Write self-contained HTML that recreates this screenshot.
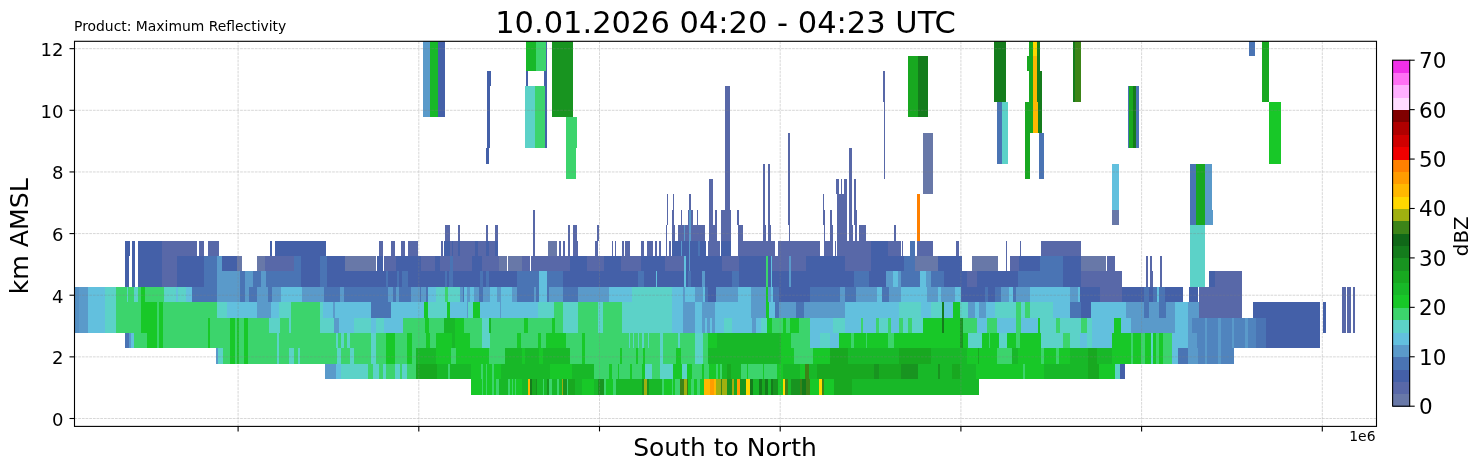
<!DOCTYPE html><html><head><meta charset="utf-8"><title>Maximum Reflectivity cross-section</title>
<style>html,body{margin:0;padding:0;background:#fff}svg{display:block}text{font-family:"DejaVu Sans","Liberation Sans",sans-serif;fill:#000}</style></head><body>
<svg width="1482" height="470" viewBox="0 0 1482 470">
<rect width="1482" height="470" fill="#fff"/>
<defs><clipPath id="axclip"><rect x="74.5" y="41.3" width="1302.0" height="385.09999999999997"/></clipPath></defs>
<g shape-rendering="crispEdges" clip-path="url(#axclip)">
<rect x="423" y="40.25" width="7.00" height="77.05" fill="#5a9aca"/>
<rect x="430" y="40.25" width="8.00" height="77.05" fill="#18b828"/>
<rect x="438" y="40.25" width="6.70" height="77.05" fill="#4460a8"/>
<rect x="487.2" y="71.07" width="3.60" height="15.41" fill="#4460a8"/>
<rect x="487.2" y="86.49" width="2.30" height="61.64" fill="#4460a8"/>
<rect x="486.4" y="148.12" width="2.20" height="15.41" fill="#4460a8"/>
<rect x="526" y="40.25" width="9.50" height="30.82" fill="#18b828"/>
<rect x="535.5" y="40.25" width="10.50" height="30.82" fill="#3cd46c"/>
<rect x="546" y="40.25" width="1.30" height="30.82" fill="#4460a8"/>
<rect x="526" y="71.07" width="1.50" height="15.41" fill="#4460a8"/>
<rect x="543.5" y="71.07" width="3.80" height="15.41" fill="#4460a8"/>
<rect x="525.4" y="86.49" width="9.60" height="61.64" fill="#5cd2c8"/>
<rect x="535" y="86.49" width="10.00" height="61.64" fill="#3cd46c"/>
<rect x="545" y="86.49" width="2.20" height="61.64" fill="#4460a8"/>
<rect x="552.1" y="40.25" width="21.30" height="77.05" fill="#189420"/>
<rect x="566.2" y="117.31" width="9.60" height="61.64" fill="#3cd46c"/>
<rect x="575.8" y="117.31" width="1.00" height="30.82" fill="#3cd46c"/>
<rect x="725.3" y="86.49" width="4.50" height="123.28" fill="#5868a8"/>
<rect x="125.2" y="240.59" width="5.00" height="15.41" fill="#4460a8"/>
<rect x="132.1" y="240.59" width="2.50" height="15.41" fill="#4460a8"/>
<rect x="138.3" y="240.59" width="23.60" height="15.41" fill="#4460a8"/>
<rect x="161.9" y="240.59" width="34.60" height="15.41" fill="#5868a8"/>
<rect x="199.4" y="240.59" width="5.00" height="15.41" fill="#5868a8"/>
<rect x="208.3" y="240.59" width="10.50" height="15.41" fill="#5868a8"/>
<rect x="270.2" y="240.59" width="2.20" height="15.41" fill="#4460a8"/>
<rect x="275.3" y="240.59" width="44.70" height="15.41" fill="#4460a8"/>
<rect x="125.2" y="256.00" width="4.20" height="15.41" fill="#4460a8"/>
<rect x="132.1" y="256.00" width="2.50" height="15.41" fill="#4460a8"/>
<rect x="138.3" y="256.00" width="23.60" height="15.41" fill="#4460a8"/>
<rect x="161.9" y="256.00" width="15.20" height="15.41" fill="#5868a8"/>
<rect x="177.1" y="256.00" width="27.00" height="15.41" fill="#4460a8"/>
<rect x="204.1" y="256.00" width="12.70" height="15.41" fill="#4a74b4"/>
<rect x="216.8" y="256.00" width="5.00" height="15.41" fill="#5a9aca"/>
<rect x="221.8" y="256.00" width="15.20" height="15.41" fill="#4460a8"/>
<rect x="237.0" y="256.00" width="4.60" height="15.41" fill="#6878a8"/>
<rect x="257.2" y="256.00" width="7.60" height="15.41" fill="#6878a8"/>
<rect x="264.8" y="256.00" width="29.60" height="15.41" fill="#5868a8"/>
<rect x="294.4" y="256.00" width="6.70" height="15.41" fill="#4a74b4"/>
<rect x="301.1" y="256.00" width="18.90" height="15.41" fill="#4460a8"/>
<rect x="125.2" y="271.40" width="4.20" height="15.41" fill="#4460a8"/>
<rect x="132.1" y="271.40" width="2.50" height="15.41" fill="#4460a8"/>
<rect x="138.3" y="271.40" width="23.60" height="15.41" fill="#4460a8"/>
<rect x="161.9" y="271.40" width="15.20" height="15.41" fill="#5868a8"/>
<rect x="177.1" y="271.40" width="27.00" height="15.41" fill="#4460a8"/>
<rect x="204.1" y="271.40" width="12.70" height="15.41" fill="#4a74b4"/>
<rect x="216.8" y="271.40" width="22.70" height="15.41" fill="#5a9aca"/>
<rect x="239.5" y="271.40" width="5.10" height="15.41" fill="#4a74b4"/>
<rect x="244.6" y="271.40" width="8.40" height="15.41" fill="#5a9aca"/>
<rect x="253.0" y="271.40" width="7.60" height="15.41" fill="#4a74b4"/>
<rect x="260.6" y="271.40" width="5.10" height="15.41" fill="#5a9aca"/>
<rect x="265.7" y="271.40" width="35.40" height="15.41" fill="#4a74b4"/>
<rect x="301.1" y="271.40" width="18.90" height="15.41" fill="#4460a8"/>
<rect x="74.4" y="286.81" width="4.90" height="15.41" fill="#5490c4"/>
<rect x="79.3" y="286.81" width="8.40" height="15.41" fill="#5a9aca"/>
<rect x="87.7" y="286.81" width="16.90" height="15.41" fill="#62c0de"/>
<rect x="104.6" y="286.81" width="11.80" height="15.41" fill="#5cd2c8"/>
<rect x="116.4" y="286.81" width="11.00" height="15.41" fill="#3cd46c"/>
<rect x="127.4" y="286.81" width="0.80" height="15.41" fill="#5cd2c8"/>
<rect x="128.2" y="286.81" width="5.90" height="15.41" fill="#3cd46c"/>
<rect x="134.1" y="286.81" width="4.20" height="15.41" fill="#5cd2c8"/>
<rect x="138.3" y="286.81" width="2.60" height="15.41" fill="#3cd46c"/>
<rect x="140.9" y="286.81" width="4.20" height="15.41" fill="#18c828"/>
<rect x="145.1" y="286.81" width="18.50" height="15.41" fill="#3cd46c"/>
<rect x="163.6" y="286.81" width="12.70" height="15.41" fill="#5cd2c8"/>
<rect x="176.3" y="286.81" width="1.70" height="15.41" fill="#62c0de"/>
<rect x="178.0" y="286.81" width="8.40" height="15.41" fill="#5cd2c8"/>
<rect x="186.4" y="286.81" width="5.10" height="15.41" fill="#62c0de"/>
<rect x="191.5" y="286.81" width="25.30" height="15.41" fill="#4a74b4"/>
<rect x="216.8" y="286.81" width="22.70" height="15.41" fill="#5a9aca"/>
<rect x="239.5" y="286.81" width="5.90" height="15.41" fill="#4a74b4"/>
<rect x="245.4" y="286.81" width="3.40" height="15.41" fill="#5a9aca"/>
<rect x="248.8" y="286.81" width="4.20" height="15.41" fill="#4a74b4"/>
<rect x="253.0" y="286.81" width="4.20" height="15.41" fill="#4a74b4"/>
<rect x="257.2" y="286.81" width="11.00" height="15.41" fill="#5a9aca"/>
<rect x="268.2" y="286.81" width="3.40" height="15.41" fill="#4a74b4"/>
<rect x="271.6" y="286.81" width="9.30" height="15.41" fill="#5a9aca"/>
<rect x="280.9" y="286.81" width="21.10" height="15.41" fill="#62c0de"/>
<rect x="302.0" y="286.81" width="18.00" height="15.41" fill="#5a9aca"/>
<rect x="74.4" y="302.23" width="4.90" height="15.41" fill="#5490c4"/>
<rect x="79.3" y="302.23" width="8.40" height="15.41" fill="#5a9aca"/>
<rect x="87.7" y="302.23" width="16.90" height="15.41" fill="#62c0de"/>
<rect x="104.6" y="302.23" width="11.80" height="15.41" fill="#5cd2c8"/>
<rect x="116.4" y="302.23" width="24.50" height="15.41" fill="#3cd46c"/>
<rect x="140.9" y="302.23" width="16.00" height="15.41" fill="#18c828"/>
<rect x="156.9" y="302.23" width="2.20" height="15.41" fill="#3cd46c"/>
<rect x="159.1" y="302.23" width="3.70" height="15.41" fill="#18c828"/>
<rect x="162.8" y="302.23" width="54.00" height="15.41" fill="#3cd46c"/>
<rect x="216.8" y="302.23" width="10.10" height="15.41" fill="#5cd2c8"/>
<rect x="226.9" y="302.23" width="30.30" height="15.41" fill="#62c0de"/>
<rect x="257.2" y="302.23" width="13.50" height="15.41" fill="#5a9aca"/>
<rect x="270.7" y="302.23" width="8.50" height="15.41" fill="#62c0de"/>
<rect x="279.2" y="302.23" width="11.80" height="15.41" fill="#5cd2c8"/>
<rect x="291.0" y="302.23" width="29.00" height="15.41" fill="#3cd46c"/>
<rect x="74.4" y="317.63" width="4.90" height="15.41" fill="#5490c4"/>
<rect x="79.3" y="317.63" width="8.40" height="15.41" fill="#5a9aca"/>
<rect x="87.7" y="317.63" width="16.90" height="15.41" fill="#62c0de"/>
<rect x="104.6" y="317.63" width="11.80" height="15.41" fill="#5cd2c8"/>
<rect x="116.4" y="317.63" width="24.50" height="15.41" fill="#3cd46c"/>
<rect x="140.9" y="317.63" width="16.00" height="15.41" fill="#18c828"/>
<rect x="156.9" y="317.63" width="2.20" height="15.41" fill="#3cd46c"/>
<rect x="159.1" y="317.63" width="3.70" height="15.41" fill="#18c828"/>
<rect x="162.8" y="317.63" width="45.20" height="15.41" fill="#3cd46c"/>
<rect x="208.0" y="317.63" width="2.40" height="15.41" fill="#18c828"/>
<rect x="210.4" y="317.63" width="19.90" height="15.41" fill="#3cd46c"/>
<rect x="230.3" y="317.63" width="4.20" height="15.41" fill="#18c828"/>
<rect x="234.5" y="317.63" width="2.50" height="15.41" fill="#3cd46c"/>
<rect x="237.0" y="317.63" width="1.70" height="15.41" fill="#18c828"/>
<rect x="238.7" y="317.63" width="5.10" height="15.41" fill="#3cd46c"/>
<rect x="243.8" y="317.63" width="3.70" height="15.41" fill="#18c828"/>
<rect x="247.5" y="317.63" width="21.60" height="15.41" fill="#3cd46c"/>
<rect x="269.1" y="317.63" width="10.90" height="15.41" fill="#5cd2c8"/>
<rect x="280.0" y="317.63" width="8.50" height="15.41" fill="#3cd46c"/>
<rect x="288.5" y="317.63" width="2.50" height="15.41" fill="#5cd2c8"/>
<rect x="291.0" y="317.63" width="29.00" height="15.41" fill="#3cd46c"/>
<rect x="125.2" y="333.05" width="3.80" height="15.41" fill="#4a74b4"/>
<rect x="129.0" y="333.05" width="1.70" height="15.41" fill="#5a9aca"/>
<rect x="130.7" y="333.05" width="3.10" height="15.41" fill="#62c0de"/>
<rect x="133.8" y="333.05" width="13.50" height="15.41" fill="#3cd46c"/>
<rect x="147.3" y="333.05" width="9.60" height="15.41" fill="#18c828"/>
<rect x="156.9" y="333.05" width="2.20" height="15.41" fill="#3cd46c"/>
<rect x="159.1" y="333.05" width="3.70" height="15.41" fill="#18c828"/>
<rect x="162.8" y="333.05" width="45.20" height="15.41" fill="#3cd46c"/>
<rect x="208.0" y="333.05" width="2.40" height="15.41" fill="#18c828"/>
<rect x="210.4" y="333.05" width="19.90" height="15.41" fill="#3cd46c"/>
<rect x="230.3" y="333.05" width="4.20" height="15.41" fill="#18c828"/>
<rect x="234.5" y="333.05" width="2.50" height="15.41" fill="#3cd46c"/>
<rect x="237.0" y="333.05" width="1.70" height="15.41" fill="#18c828"/>
<rect x="238.7" y="333.05" width="5.10" height="15.41" fill="#3cd46c"/>
<rect x="243.8" y="333.05" width="3.70" height="15.41" fill="#18c828"/>
<rect x="247.5" y="333.05" width="29.10" height="15.41" fill="#3cd46c"/>
<rect x="276.6" y="333.05" width="2.60" height="15.41" fill="#5cd2c8"/>
<rect x="279.2" y="333.05" width="40.80" height="15.41" fill="#3cd46c"/>
<rect x="215.9" y="348.46" width="2.50" height="15.41" fill="#5a9aca"/>
<rect x="218.4" y="348.46" width="4.30" height="15.41" fill="#5cd2c8"/>
<rect x="222.7" y="348.46" width="7.60" height="15.41" fill="#3cd46c"/>
<rect x="230.3" y="348.46" width="4.20" height="15.41" fill="#18c828"/>
<rect x="234.5" y="348.46" width="2.50" height="15.41" fill="#3cd46c"/>
<rect x="237.0" y="348.46" width="1.70" height="15.41" fill="#18c828"/>
<rect x="238.7" y="348.46" width="5.10" height="15.41" fill="#3cd46c"/>
<rect x="243.8" y="348.46" width="3.70" height="15.41" fill="#18c828"/>
<rect x="247.5" y="348.46" width="29.10" height="15.41" fill="#3cd46c"/>
<rect x="276.6" y="348.46" width="2.60" height="15.41" fill="#5cd2c8"/>
<rect x="279.2" y="348.46" width="9.30" height="15.41" fill="#3cd46c"/>
<rect x="288.5" y="348.46" width="5.90" height="15.41" fill="#5cd2c8"/>
<rect x="294.4" y="348.46" width="3.30" height="15.41" fill="#3cd46c"/>
<rect x="297.7" y="348.46" width="2.10" height="15.41" fill="#5cd2c8"/>
<rect x="299.8" y="348.46" width="20.20" height="15.41" fill="#3cd46c"/>
<rect x="444.5" y="225.18" width="5.40" height="15.41" fill="#5868a8"/>
<rect x="457.5" y="225.18" width="2.10" height="15.41" fill="#5868a8"/>
<rect x="486.3" y="225.18" width="1.50" height="15.41" fill="#5868a8"/>
<rect x="495.2" y="225.18" width="2.30" height="15.41" fill="#5868a8"/>
<rect x="533.0" y="209.77" width="1.70" height="30.82" fill="#5868a8"/>
<rect x="320.0" y="240.59" width="5.90" height="15.41" fill="#4460a8"/>
<rect x="379.0" y="240.59" width="3.80" height="15.41" fill="#5868a8"/>
<rect x="391.2" y="240.59" width="3.40" height="15.41" fill="#5868a8"/>
<rect x="401.3" y="240.59" width="3.40" height="15.41" fill="#5868a8"/>
<rect x="408.1" y="240.59" width="9.70" height="15.41" fill="#5868a8"/>
<rect x="441.1" y="240.59" width="1.70" height="15.41" fill="#5868a8"/>
<rect x="444.2" y="240.59" width="5.70" height="15.41" fill="#4460a8"/>
<rect x="449.9" y="240.59" width="1.70" height="15.41" fill="#5868a8"/>
<rect x="451.6" y="240.59" width="1.70" height="15.41" fill="#4460a8"/>
<rect x="453.3" y="240.59" width="4.20" height="15.41" fill="#5868a8"/>
<rect x="457.5" y="240.59" width="2.20" height="15.41" fill="#4460a8"/>
<rect x="459.7" y="240.59" width="2.80" height="15.41" fill="#5868a8"/>
<rect x="462.5" y="240.59" width="0.90" height="15.41" fill="#4460a8"/>
<rect x="463.4" y="240.59" width="11.80" height="15.41" fill="#5868a8"/>
<rect x="475.2" y="240.59" width="2.50" height="15.41" fill="#4460a8"/>
<rect x="477.7" y="240.59" width="8.50" height="15.41" fill="#5868a8"/>
<rect x="486.2" y="240.59" width="2.50" height="15.41" fill="#4460a8"/>
<rect x="488.7" y="240.59" width="6.40" height="15.41" fill="#5868a8"/>
<rect x="495.1" y="240.59" width="2.40" height="15.41" fill="#4460a8"/>
<rect x="532.9" y="240.59" width="1.70" height="15.41" fill="#5868a8"/>
<rect x="548.1" y="240.59" width="8.40" height="15.41" fill="#6878a8"/>
<rect x="559.2" y="240.59" width="1.70" height="15.41" fill="#5868a8"/>
<rect x="562.9" y="240.59" width="1.70" height="15.41" fill="#5868a8"/>
<rect x="568.0" y="240.59" width="2.00" height="15.41" fill="#5868a8"/>
<rect x="320.0" y="256.00" width="6.70" height="15.41" fill="#4a74b4"/>
<rect x="326.7" y="256.00" width="18.60" height="15.41" fill="#4460a8"/>
<rect x="345.3" y="256.00" width="30.40" height="15.41" fill="#6878a8"/>
<rect x="377.4" y="256.00" width="5.40" height="15.41" fill="#4460a8"/>
<rect x="384.1" y="256.00" width="11.80" height="15.41" fill="#5868a8"/>
<rect x="395.9" y="256.00" width="25.30" height="15.41" fill="#4460a8"/>
<rect x="421.2" y="256.00" width="13.50" height="15.41" fill="#5868a8"/>
<rect x="434.7" y="256.00" width="5.10" height="15.41" fill="#4460a8"/>
<rect x="439.8" y="256.00" width="10.10" height="15.41" fill="#5868a8"/>
<rect x="449.9" y="256.00" width="3.40" height="15.41" fill="#4a74b4"/>
<rect x="453.3" y="256.00" width="18.50" height="15.41" fill="#5868a8"/>
<rect x="471.8" y="256.00" width="10.10" height="15.41" fill="#4460a8"/>
<rect x="481.9" y="256.00" width="16.90" height="15.41" fill="#5868a8"/>
<rect x="498.8" y="256.00" width="8.10" height="15.41" fill="#6878a8"/>
<rect x="508.1" y="256.00" width="14.30" height="15.41" fill="#6878a8"/>
<rect x="522.4" y="256.00" width="7.60" height="15.41" fill="#5868a8"/>
<rect x="531.2" y="256.00" width="38.80" height="15.41" fill="#5868a8"/>
<rect x="320.0" y="271.40" width="6.70" height="15.41" fill="#4a74b4"/>
<rect x="326.7" y="271.40" width="59.10" height="15.41" fill="#4460a8"/>
<rect x="385.8" y="271.40" width="2.50" height="15.41" fill="#4a74b4"/>
<rect x="388.3" y="271.40" width="8.50" height="15.41" fill="#4460a8"/>
<rect x="396.8" y="271.40" width="2.50" height="15.41" fill="#4a74b4"/>
<rect x="399.3" y="271.40" width="2.50" height="15.41" fill="#4460a8"/>
<rect x="401.8" y="271.40" width="5.90" height="15.41" fill="#4a74b4"/>
<rect x="407.7" y="271.40" width="37.10" height="15.41" fill="#4460a8"/>
<rect x="444.8" y="271.40" width="1.70" height="15.41" fill="#4a74b4"/>
<rect x="446.5" y="271.40" width="2.50" height="15.41" fill="#4460a8"/>
<rect x="449.0" y="271.40" width="4.30" height="15.41" fill="#4a74b4"/>
<rect x="453.3" y="271.40" width="27.00" height="15.41" fill="#4460a8"/>
<rect x="480.3" y="271.40" width="2.50" height="15.41" fill="#4a74b4"/>
<rect x="482.8" y="271.40" width="3.40" height="15.41" fill="#4460a8"/>
<rect x="486.2" y="271.40" width="2.50" height="15.41" fill="#4a74b4"/>
<rect x="488.7" y="271.40" width="27.80" height="15.41" fill="#4460a8"/>
<rect x="516.5" y="271.40" width="22.80" height="15.41" fill="#4a74b4"/>
<rect x="539.3" y="271.40" width="7.60" height="15.41" fill="#62c0de"/>
<rect x="546.9" y="271.40" width="16.00" height="15.41" fill="#4a74b4"/>
<rect x="562.9" y="271.40" width="7.10" height="15.41" fill="#4460a8"/>
<rect x="320.0" y="286.81" width="4.20" height="15.41" fill="#5a9aca"/>
<rect x="324.2" y="286.81" width="16.00" height="15.41" fill="#4a74b4"/>
<rect x="340.2" y="286.81" width="3.40" height="15.41" fill="#5a9aca"/>
<rect x="343.6" y="286.81" width="43.90" height="15.41" fill="#4a74b4"/>
<rect x="387.5" y="286.81" width="5.90" height="15.41" fill="#5a9aca"/>
<rect x="393.4" y="286.81" width="2.50" height="15.41" fill="#4a74b4"/>
<rect x="395.9" y="286.81" width="3.40" height="15.41" fill="#5a9aca"/>
<rect x="399.3" y="286.81" width="11.80" height="15.41" fill="#4a74b4"/>
<rect x="411.1" y="286.81" width="8.40" height="15.41" fill="#5a9aca"/>
<rect x="419.5" y="286.81" width="1.70" height="15.41" fill="#4a74b4"/>
<rect x="421.2" y="286.81" width="5.10" height="15.41" fill="#5a9aca"/>
<rect x="426.3" y="286.81" width="1.70" height="15.41" fill="#4a74b4"/>
<rect x="428.0" y="286.81" width="8.40" height="15.41" fill="#62c0de"/>
<rect x="436.4" y="286.81" width="8.40" height="15.41" fill="#5cd2c8"/>
<rect x="444.8" y="286.81" width="3.40" height="15.41" fill="#3cd46c"/>
<rect x="448.2" y="286.81" width="11.80" height="15.41" fill="#5cd2c8"/>
<rect x="460.0" y="286.81" width="2.50" height="15.41" fill="#5a9aca"/>
<rect x="462.5" y="286.81" width="1.70" height="15.41" fill="#4a74b4"/>
<rect x="464.2" y="286.81" width="2.60" height="15.41" fill="#62c0de"/>
<rect x="466.8" y="286.81" width="3.30" height="15.41" fill="#5a9aca"/>
<rect x="470.1" y="286.81" width="4.30" height="15.41" fill="#62c0de"/>
<rect x="474.4" y="286.81" width="5.00" height="15.41" fill="#5a9aca"/>
<rect x="479.4" y="286.81" width="3.40" height="15.41" fill="#4a74b4"/>
<rect x="482.8" y="286.81" width="7.60" height="15.41" fill="#5a9aca"/>
<rect x="490.4" y="286.81" width="6.70" height="15.41" fill="#62c0de"/>
<rect x="497.1" y="286.81" width="3.40" height="15.41" fill="#5a9aca"/>
<rect x="500.5" y="286.81" width="11.80" height="15.41" fill="#62c0de"/>
<rect x="512.3" y="286.81" width="4.20" height="15.41" fill="#5a9aca"/>
<rect x="516.5" y="286.81" width="17.70" height="15.41" fill="#4a74b4"/>
<rect x="534.2" y="286.81" width="1.70" height="15.41" fill="#5a9aca"/>
<rect x="535.9" y="286.81" width="3.40" height="15.41" fill="#4a74b4"/>
<rect x="539.3" y="286.81" width="7.60" height="15.41" fill="#62c0de"/>
<rect x="546.9" y="286.81" width="2.50" height="15.41" fill="#4a74b4"/>
<rect x="549.4" y="286.81" width="13.50" height="15.41" fill="#5a9aca"/>
<rect x="562.9" y="286.81" width="7.10" height="15.41" fill="#4a74b4"/>
<rect x="320.0" y="302.23" width="3.40" height="15.41" fill="#5cd2c8"/>
<rect x="323.4" y="302.23" width="9.30" height="15.41" fill="#62c0de"/>
<rect x="332.7" y="302.23" width="2.50" height="15.41" fill="#5a9aca"/>
<rect x="335.2" y="302.23" width="35.40" height="15.41" fill="#62c0de"/>
<rect x="370.6" y="302.23" width="19.90" height="15.41" fill="#4a74b4"/>
<rect x="390.5" y="302.23" width="33.20" height="15.41" fill="#62c0de"/>
<rect x="423.7" y="302.23" width="4.30" height="15.41" fill="#18c828"/>
<rect x="428.0" y="302.23" width="19.40" height="15.41" fill="#5cd2c8"/>
<rect x="447.4" y="302.23" width="2.50" height="15.41" fill="#18c828"/>
<rect x="449.9" y="302.23" width="16.90" height="15.41" fill="#62c0de"/>
<rect x="466.8" y="302.23" width="1.60" height="15.41" fill="#5a9aca"/>
<rect x="468.4" y="302.23" width="4.30" height="15.41" fill="#5cd2c8"/>
<rect x="472.7" y="302.23" width="7.60" height="15.41" fill="#18c828"/>
<rect x="480.3" y="302.23" width="19.40" height="15.41" fill="#62c0de"/>
<rect x="499.7" y="302.23" width="0.80" height="15.41" fill="#5a9aca"/>
<rect x="500.5" y="302.23" width="37.10" height="15.41" fill="#62c0de"/>
<rect x="537.6" y="302.23" width="16.00" height="15.41" fill="#5cd2c8"/>
<rect x="553.6" y="302.23" width="9.30" height="15.41" fill="#3cd46c"/>
<rect x="562.9" y="302.23" width="7.10" height="15.41" fill="#5cd2c8"/>
<rect x="320.0" y="317.63" width="14.30" height="15.41" fill="#5cd2c8"/>
<rect x="334.3" y="317.63" width="4.30" height="15.41" fill="#5a9aca"/>
<rect x="338.6" y="317.63" width="15.10" height="15.41" fill="#62c0de"/>
<rect x="353.7" y="317.63" width="16.90" height="15.41" fill="#5cd2c8"/>
<rect x="370.6" y="317.63" width="5.10" height="15.41" fill="#62c0de"/>
<rect x="375.7" y="317.63" width="8.40" height="15.41" fill="#5cd2c8"/>
<rect x="384.1" y="317.63" width="18.60" height="15.41" fill="#62c0de"/>
<rect x="402.7" y="317.63" width="22.70" height="15.41" fill="#3cd46c"/>
<rect x="425.4" y="317.63" width="3.40" height="15.41" fill="#18c828"/>
<rect x="428.8" y="317.63" width="15.20" height="15.41" fill="#3cd46c"/>
<rect x="444.0" y="317.63" width="11.00" height="15.41" fill="#18b828"/>
<rect x="455.0" y="317.63" width="9.20" height="15.41" fill="#18c828"/>
<rect x="464.2" y="317.63" width="17.70" height="15.41" fill="#3cd46c"/>
<rect x="481.9" y="317.63" width="6.80" height="15.41" fill="#5cd2c8"/>
<rect x="488.7" y="317.63" width="2.00" height="15.41" fill="#18b828"/>
<rect x="490.7" y="317.63" width="33.40" height="15.41" fill="#3cd46c"/>
<rect x="524.1" y="317.63" width="4.20" height="15.41" fill="#18c828"/>
<rect x="528.3" y="317.63" width="23.70" height="15.41" fill="#3cd46c"/>
<rect x="552.0" y="317.63" width="3.30" height="15.41" fill="#18c828"/>
<rect x="555.3" y="317.63" width="7.60" height="15.41" fill="#3cd46c"/>
<rect x="562.9" y="317.63" width="7.10" height="15.41" fill="#5cd2c8"/>
<rect x="320.0" y="333.05" width="16.00" height="15.41" fill="#3cd46c"/>
<rect x="336.0" y="333.05" width="1.70" height="15.41" fill="#5cd2c8"/>
<rect x="337.7" y="333.05" width="3.40" height="15.41" fill="#3cd46c"/>
<rect x="341.1" y="333.05" width="2.50" height="15.41" fill="#5cd2c8"/>
<rect x="343.6" y="333.05" width="3.40" height="15.41" fill="#3cd46c"/>
<rect x="347.0" y="333.05" width="2.50" height="15.41" fill="#5cd2c8"/>
<rect x="349.5" y="333.05" width="21.10" height="15.41" fill="#3cd46c"/>
<rect x="370.6" y="333.05" width="5.10" height="15.41" fill="#5cd2c8"/>
<rect x="375.7" y="333.05" width="10.10" height="15.41" fill="#3cd46c"/>
<rect x="385.8" y="333.05" width="9.30" height="15.41" fill="#18c828"/>
<rect x="395.1" y="333.05" width="11.80" height="15.41" fill="#3cd46c"/>
<rect x="406.9" y="333.05" width="5.00" height="15.41" fill="#18c828"/>
<rect x="411.9" y="333.05" width="14.40" height="15.41" fill="#3cd46c"/>
<rect x="426.3" y="333.05" width="3.30" height="15.41" fill="#18c828"/>
<rect x="429.6" y="333.05" width="6.80" height="15.41" fill="#3cd46c"/>
<rect x="436.4" y="333.05" width="15.20" height="15.41" fill="#18c828"/>
<rect x="451.6" y="333.05" width="3.40" height="15.41" fill="#18b828"/>
<rect x="455.0" y="333.05" width="15.10" height="15.41" fill="#18c828"/>
<rect x="470.1" y="333.05" width="11.80" height="15.41" fill="#3cd46c"/>
<rect x="481.9" y="333.05" width="8.50" height="15.41" fill="#5cd2c8"/>
<rect x="490.4" y="333.05" width="26.10" height="15.41" fill="#3cd46c"/>
<rect x="516.5" y="333.05" width="4.20" height="15.41" fill="#18c828"/>
<rect x="520.7" y="333.05" width="16.90" height="15.41" fill="#3cd46c"/>
<rect x="537.6" y="333.05" width="3.40" height="15.41" fill="#18c828"/>
<rect x="541.0" y="333.05" width="5.00" height="15.41" fill="#3cd46c"/>
<rect x="546.0" y="333.05" width="20.30" height="15.41" fill="#18c828"/>
<rect x="566.3" y="333.05" width="3.70" height="15.41" fill="#3cd46c"/>
<rect x="320.0" y="348.46" width="16.90" height="15.41" fill="#3cd46c"/>
<rect x="336.9" y="348.46" width="4.20" height="15.41" fill="#5cd2c8"/>
<rect x="341.1" y="348.46" width="8.40" height="15.41" fill="#3cd46c"/>
<rect x="349.5" y="348.46" width="4.20" height="15.41" fill="#5cd2c8"/>
<rect x="353.7" y="348.46" width="16.90" height="15.41" fill="#3cd46c"/>
<rect x="370.6" y="348.46" width="5.10" height="15.41" fill="#5cd2c8"/>
<rect x="375.7" y="348.46" width="10.10" height="15.41" fill="#3cd46c"/>
<rect x="385.8" y="348.46" width="9.30" height="15.41" fill="#18c828"/>
<rect x="395.1" y="348.46" width="11.80" height="15.41" fill="#3cd46c"/>
<rect x="406.9" y="348.46" width="5.00" height="15.41" fill="#18c828"/>
<rect x="411.9" y="348.46" width="4.30" height="15.41" fill="#3cd46c"/>
<rect x="416.2" y="348.46" width="20.20" height="15.41" fill="#18b828"/>
<rect x="436.4" y="348.46" width="14.30" height="15.41" fill="#18c828"/>
<rect x="450.7" y="348.46" width="5.10" height="15.41" fill="#3cd46c"/>
<rect x="455.8" y="348.46" width="32.90" height="15.41" fill="#18c828"/>
<rect x="488.7" y="348.46" width="16.00" height="15.41" fill="#3cd46c"/>
<rect x="504.7" y="348.46" width="17.70" height="15.41" fill="#18b828"/>
<rect x="522.4" y="348.46" width="2.60" height="15.41" fill="#18c828"/>
<rect x="525.0" y="348.46" width="14.30" height="15.41" fill="#18b828"/>
<rect x="539.3" y="348.46" width="3.40" height="15.41" fill="#18c828"/>
<rect x="542.7" y="348.46" width="27.30" height="15.41" fill="#18b828"/>
<rect x="568.4" y="225.18" width="1.60" height="15.41" fill="#5868a8"/>
<rect x="573.4" y="225.18" width="3.20" height="15.41" fill="#5868a8"/>
<rect x="597.0" y="225.18" width="1.80" height="15.41" fill="#5868a8"/>
<rect x="666.2" y="225.18" width="1.00" height="15.41" fill="#5868a8"/>
<rect x="672.1" y="225.18" width="3.30" height="15.41" fill="#5868a8"/>
<rect x="678" y="225.18" width="27.20" height="15.41" fill="#5868a8"/>
<rect x="709.2" y="225.18" width="7.60" height="15.41" fill="#5868a8"/>
<rect x="721" y="225.18" width="9.80" height="15.41" fill="#5868a8"/>
<rect x="737.6" y="225.18" width="5.30" height="15.41" fill="#5868a8"/>
<rect x="763.2" y="225.18" width="2.40" height="15.41" fill="#5868a8"/>
<rect x="768.2" y="225.18" width="3.20" height="15.41" fill="#5868a8"/>
<rect x="788.6" y="225.18" width="1.60" height="15.41" fill="#5868a8"/>
<rect x="683.8" y="225.18" width="1.00" height="15.41" fill="#5a9aca"/>
<rect x="689" y="225.18" width="2.00" height="15.41" fill="#5a9aca"/>
<rect x="572.5" y="240.59" width="5.90" height="15.41" fill="#5868a8"/>
<rect x="594.5" y="240.59" width="3.30" height="15.41" fill="#5868a8"/>
<rect x="612.2" y="240.59" width="1.20" height="15.41" fill="#5868a8"/>
<rect x="615.2" y="240.59" width="1.20" height="15.41" fill="#5868a8"/>
<rect x="622.3" y="240.59" width="1.30" height="15.41" fill="#5868a8"/>
<rect x="625.3" y="240.59" width="4.60" height="15.41" fill="#5868a8"/>
<rect x="641.2" y="240.59" width="2.70" height="15.41" fill="#5868a8"/>
<rect x="647.3" y="240.59" width="5.40" height="15.41" fill="#5868a8"/>
<rect x="655.2" y="240.59" width="1.70" height="15.41" fill="#5868a8"/>
<rect x="659.1" y="240.59" width="1.70" height="15.41" fill="#5868a8"/>
<rect x="666.2" y="240.59" width="0.80" height="15.41" fill="#5868a8"/>
<rect x="669.2" y="240.59" width="1.30" height="15.41" fill="#5868a8"/>
<rect x="672.1" y="240.59" width="9.20" height="15.41" fill="#4460a8"/>
<rect x="681.3" y="240.59" width="1.00" height="15.41" fill="#5a9aca"/>
<rect x="682.3" y="240.59" width="6.60" height="15.41" fill="#4460a8"/>
<rect x="688.9" y="240.59" width="1.20" height="15.41" fill="#5a9aca"/>
<rect x="690.1" y="240.59" width="8.10" height="15.41" fill="#4460a8"/>
<rect x="698.2" y="240.59" width="1.40" height="15.41" fill="#4a74b4"/>
<rect x="699.6" y="240.59" width="6.20" height="15.41" fill="#4460a8"/>
<rect x="707.5" y="240.59" width="12.60" height="15.41" fill="#5868a8"/>
<rect x="721.0" y="240.59" width="10.10" height="15.41" fill="#4460a8"/>
<rect x="737.8" y="240.59" width="37.20" height="15.41" fill="#5868a8"/>
<rect x="777.5" y="240.59" width="42.50" height="15.41" fill="#5868a8"/>
<rect x="570.0" y="256.00" width="16.90" height="15.41" fill="#4460a8"/>
<rect x="586.9" y="256.00" width="16.80" height="15.41" fill="#5868a8"/>
<rect x="603.7" y="256.00" width="16.90" height="15.41" fill="#4460a8"/>
<rect x="620.6" y="256.00" width="20.30" height="15.41" fill="#5868a8"/>
<rect x="640.9" y="256.00" width="23.60" height="15.41" fill="#4460a8"/>
<rect x="664.5" y="256.00" width="19.40" height="15.41" fill="#5868a8"/>
<rect x="683.9" y="256.00" width="1.70" height="15.41" fill="#62c0de"/>
<rect x="685.6" y="256.00" width="3.30" height="15.41" fill="#4460a8"/>
<rect x="688.9" y="256.00" width="1.20" height="15.41" fill="#5a9aca"/>
<rect x="690.1" y="256.00" width="31.70" height="15.41" fill="#4460a8"/>
<rect x="721.8" y="256.00" width="16.90" height="15.41" fill="#5868a8"/>
<rect x="738.7" y="256.00" width="27.00" height="15.41" fill="#4460a8"/>
<rect x="765.7" y="256.00" width="2.50" height="15.41" fill="#3cd46c"/>
<rect x="768.2" y="256.00" width="2.90" height="15.41" fill="#4460a8"/>
<rect x="771.1" y="256.00" width="1.30" height="15.41" fill="#62c0de"/>
<rect x="772.4" y="256.00" width="16.90" height="15.41" fill="#5868a8"/>
<rect x="789.3" y="256.00" width="1.70" height="15.41" fill="#5a9aca"/>
<rect x="791.0" y="256.00" width="15.20" height="15.41" fill="#5868a8"/>
<rect x="806.2" y="256.00" width="13.80" height="15.41" fill="#4460a8"/>
<rect x="570.0" y="271.40" width="67.50" height="15.41" fill="#4460a8"/>
<rect x="637.5" y="271.40" width="6.70" height="15.41" fill="#4a74b4"/>
<rect x="644.2" y="271.40" width="11.80" height="15.41" fill="#4460a8"/>
<rect x="656.0" y="271.40" width="1.40" height="15.41" fill="#62c0de"/>
<rect x="657.4" y="271.40" width="26.50" height="15.41" fill="#4460a8"/>
<rect x="683.9" y="271.40" width="1.70" height="15.41" fill="#62c0de"/>
<rect x="685.6" y="271.40" width="2.50" height="15.41" fill="#4460a8"/>
<rect x="688.1" y="271.40" width="2.50" height="15.41" fill="#4a74b4"/>
<rect x="690.6" y="271.40" width="11.00" height="15.41" fill="#4460a8"/>
<rect x="701.6" y="271.40" width="3.40" height="15.41" fill="#5a9aca"/>
<rect x="705.0" y="271.40" width="26.90" height="15.41" fill="#4460a8"/>
<rect x="731.9" y="271.40" width="6.80" height="15.41" fill="#4a74b4"/>
<rect x="738.7" y="271.40" width="27.00" height="15.41" fill="#4460a8"/>
<rect x="765.7" y="271.40" width="2.50" height="15.41" fill="#3cd46c"/>
<rect x="768.2" y="271.40" width="2.90" height="15.41" fill="#4460a8"/>
<rect x="771.1" y="271.40" width="1.30" height="15.41" fill="#62c0de"/>
<rect x="772.4" y="271.40" width="16.90" height="15.41" fill="#4460a8"/>
<rect x="789.3" y="271.40" width="1.70" height="15.41" fill="#5a9aca"/>
<rect x="791.0" y="271.40" width="29.00" height="15.41" fill="#4460a8"/>
<rect x="570.0" y="286.81" width="8.40" height="15.41" fill="#4a74b4"/>
<rect x="578.4" y="286.81" width="30.40" height="15.41" fill="#5a9aca"/>
<rect x="608.8" y="286.81" width="23.60" height="15.41" fill="#62c0de"/>
<rect x="632.4" y="286.81" width="39.70" height="15.41" fill="#5cd2c8"/>
<rect x="672.1" y="286.81" width="10.90" height="15.41" fill="#62c0de"/>
<rect x="683.0" y="286.81" width="1.70" height="15.41" fill="#5a9aca"/>
<rect x="684.7" y="286.81" width="10.10" height="15.41" fill="#62c0de"/>
<rect x="694.8" y="286.81" width="8.50" height="15.41" fill="#5a9aca"/>
<rect x="703.3" y="286.81" width="1.70" height="15.41" fill="#62c0de"/>
<rect x="705.0" y="286.81" width="3.30" height="15.41" fill="#4a74b4"/>
<rect x="708.3" y="286.81" width="7.60" height="15.41" fill="#4460a8"/>
<rect x="715.9" y="286.81" width="21.90" height="15.41" fill="#5a9aca"/>
<rect x="737.8" y="286.81" width="12.70" height="15.41" fill="#62c0de"/>
<rect x="750.5" y="286.81" width="15.20" height="15.41" fill="#5a9aca"/>
<rect x="765.7" y="286.81" width="2.50" height="15.41" fill="#18c828"/>
<rect x="768.2" y="286.81" width="2.90" height="15.41" fill="#5a9aca"/>
<rect x="771.1" y="286.81" width="2.20" height="15.41" fill="#62c0de"/>
<rect x="773.3" y="286.81" width="5.90" height="15.41" fill="#4a74b4"/>
<rect x="779.2" y="286.81" width="30.30" height="15.41" fill="#4460a8"/>
<rect x="809.5" y="286.81" width="10.50" height="15.41" fill="#4a74b4"/>
<rect x="570.0" y="302.23" width="8.40" height="15.41" fill="#5cd2c8"/>
<rect x="578.4" y="302.23" width="19.40" height="15.41" fill="#3cd46c"/>
<rect x="597.8" y="302.23" width="5.10" height="15.41" fill="#5cd2c8"/>
<rect x="602.9" y="302.23" width="18.60" height="15.41" fill="#3cd46c"/>
<rect x="621.5" y="302.23" width="50.60" height="15.41" fill="#5cd2c8"/>
<rect x="672.1" y="302.23" width="10.90" height="15.41" fill="#62c0de"/>
<rect x="683.0" y="302.23" width="11.80" height="15.41" fill="#5a9aca"/>
<rect x="694.8" y="302.23" width="7.60" height="15.41" fill="#62c0de"/>
<rect x="702.4" y="302.23" width="12.70" height="15.41" fill="#5a9aca"/>
<rect x="715.1" y="302.23" width="35.40" height="15.41" fill="#62c0de"/>
<rect x="750.5" y="302.23" width="15.20" height="15.41" fill="#5a9aca"/>
<rect x="765.7" y="302.23" width="3.40" height="15.41" fill="#18c828"/>
<rect x="769.1" y="302.23" width="5.90" height="15.41" fill="#62c0de"/>
<rect x="775.0" y="302.23" width="4.20" height="15.41" fill="#4a74b4"/>
<rect x="779.2" y="302.23" width="7.60" height="15.41" fill="#5a9aca"/>
<rect x="786.8" y="302.23" width="9.20" height="15.41" fill="#5a9aca"/>
<rect x="796.0" y="302.23" width="7.60" height="15.41" fill="#4a74b4"/>
<rect x="803.6" y="302.23" width="16.40" height="15.41" fill="#5a9aca"/>
<rect x="570.0" y="317.63" width="8.40" height="15.41" fill="#5cd2c8"/>
<rect x="578.4" y="317.63" width="19.40" height="15.41" fill="#3cd46c"/>
<rect x="597.8" y="317.63" width="5.10" height="15.41" fill="#5cd2c8"/>
<rect x="602.9" y="317.63" width="18.60" height="15.41" fill="#3cd46c"/>
<rect x="621.5" y="317.63" width="50.60" height="15.41" fill="#5cd2c8"/>
<rect x="672.1" y="317.63" width="10.90" height="15.41" fill="#62c0de"/>
<rect x="683.0" y="317.63" width="11.80" height="15.41" fill="#5a9aca"/>
<rect x="694.8" y="317.63" width="7.60" height="15.41" fill="#62c0de"/>
<rect x="702.4" y="317.63" width="2.60" height="15.41" fill="#5a9aca"/>
<rect x="705.0" y="317.63" width="1.60" height="15.41" fill="#62c0de"/>
<rect x="706.6" y="317.63" width="3.40" height="15.41" fill="#5a9aca"/>
<rect x="710.0" y="317.63" width="1.70" height="15.41" fill="#62c0de"/>
<rect x="711.7" y="317.63" width="3.40" height="15.41" fill="#5a9aca"/>
<rect x="715.1" y="317.63" width="8.40" height="15.41" fill="#62c0de"/>
<rect x="723.5" y="317.63" width="8.40" height="15.41" fill="#5cd2c8"/>
<rect x="731.9" y="317.63" width="20.30" height="15.41" fill="#62c0de"/>
<rect x="752.2" y="317.63" width="3.40" height="15.41" fill="#5a9aca"/>
<rect x="755.6" y="317.63" width="5.00" height="15.41" fill="#62c0de"/>
<rect x="760.6" y="317.63" width="5.90" height="15.41" fill="#5cd2c8"/>
<rect x="766.5" y="317.63" width="5.90" height="15.41" fill="#18c828"/>
<rect x="772.4" y="317.63" width="10.20" height="15.41" fill="#3cd46c"/>
<rect x="782.6" y="317.63" width="3.30" height="15.41" fill="#18c828"/>
<rect x="785.9" y="317.63" width="4.20" height="15.41" fill="#3cd46c"/>
<rect x="790.1" y="317.63" width="9.30" height="15.41" fill="#18c828"/>
<rect x="799.4" y="317.63" width="10.10" height="15.41" fill="#3cd46c"/>
<rect x="809.5" y="317.63" width="10.50" height="15.41" fill="#62c0de"/>
<rect x="570.0" y="333.05" width="11.80" height="15.41" fill="#3cd46c"/>
<rect x="581.8" y="333.05" width="3.00" height="15.41" fill="#18c828"/>
<rect x="584.8" y="333.05" width="44.20" height="15.41" fill="#3cd46c"/>
<rect x="629.0" y="333.05" width="1.40" height="15.41" fill="#5cd2c8"/>
<rect x="630.4" y="333.05" width="2.40" height="15.41" fill="#3cd46c"/>
<rect x="632.8" y="333.05" width="1.30" height="15.41" fill="#5cd2c8"/>
<rect x="634.1" y="333.05" width="3.70" height="15.41" fill="#3cd46c"/>
<rect x="637.8" y="333.05" width="1.40" height="15.41" fill="#5cd2c8"/>
<rect x="639.2" y="333.05" width="3.00" height="15.41" fill="#3cd46c"/>
<rect x="642.2" y="333.05" width="1.30" height="15.41" fill="#5cd2c8"/>
<rect x="643.5" y="333.05" width="4.40" height="15.41" fill="#3cd46c"/>
<rect x="647.9" y="333.05" width="1.40" height="15.41" fill="#5cd2c8"/>
<rect x="649.3" y="333.05" width="10.90" height="15.41" fill="#3cd46c"/>
<rect x="660.2" y="333.05" width="2.60" height="15.41" fill="#5cd2c8"/>
<rect x="662.8" y="333.05" width="15.20" height="15.41" fill="#3cd46c"/>
<rect x="678.0" y="333.05" width="1.60" height="15.41" fill="#5cd2c8"/>
<rect x="679.6" y="333.05" width="15.20" height="15.41" fill="#3cd46c"/>
<rect x="694.8" y="333.05" width="8.50" height="15.41" fill="#5cd2c8"/>
<rect x="703.3" y="333.05" width="5.00" height="15.41" fill="#3cd46c"/>
<rect x="708.3" y="333.05" width="8.50" height="15.41" fill="#18c828"/>
<rect x="716.8" y="333.05" width="64.10" height="15.41" fill="#18b828"/>
<rect x="780.9" y="333.05" width="10.10" height="15.41" fill="#18c828"/>
<rect x="791.0" y="333.05" width="18.50" height="15.41" fill="#3cd46c"/>
<rect x="809.5" y="333.05" width="10.50" height="15.41" fill="#62c0de"/>
<rect x="570.0" y="348.46" width="11.80" height="15.41" fill="#3cd46c"/>
<rect x="581.8" y="348.46" width="3.00" height="15.41" fill="#18c828"/>
<rect x="584.8" y="348.46" width="35.00" height="15.41" fill="#3cd46c"/>
<rect x="619.8" y="348.46" width="1.70" height="15.41" fill="#18c828"/>
<rect x="621.5" y="348.46" width="14.30" height="15.41" fill="#3cd46c"/>
<rect x="635.8" y="348.46" width="2.50" height="15.41" fill="#18c828"/>
<rect x="638.3" y="348.46" width="4.20" height="15.41" fill="#3cd46c"/>
<rect x="642.5" y="348.46" width="2.60" height="15.41" fill="#18c828"/>
<rect x="645.1" y="348.46" width="15.10" height="15.41" fill="#3cd46c"/>
<rect x="660.2" y="348.46" width="2.60" height="15.41" fill="#5cd2c8"/>
<rect x="662.8" y="348.46" width="13.50" height="15.41" fill="#3cd46c"/>
<rect x="676.3" y="348.46" width="5.00" height="15.41" fill="#18c828"/>
<rect x="681.3" y="348.46" width="13.50" height="15.41" fill="#3cd46c"/>
<rect x="694.8" y="348.46" width="8.50" height="15.41" fill="#5cd2c8"/>
<rect x="703.3" y="348.46" width="5.00" height="15.41" fill="#3cd46c"/>
<rect x="708.3" y="348.46" width="72.60" height="15.41" fill="#18b828"/>
<rect x="780.9" y="348.46" width="13.50" height="15.41" fill="#18c828"/>
<rect x="794.4" y="348.46" width="18.50" height="15.41" fill="#3cd46c"/>
<rect x="812.9" y="348.46" width="7.10" height="15.41" fill="#18c828"/>
<rect x="823.6" y="225.18" width="1.00" height="15.41" fill="#5868a8"/>
<rect x="830.1" y="225.18" width="2.50" height="15.41" fill="#5868a8"/>
<rect x="837.4" y="225.18" width="9.20" height="15.41" fill="#5868a8"/>
<rect x="849" y="225.18" width="3.80" height="15.41" fill="#5868a8"/>
<rect x="855.2" y="225.18" width="1.80" height="15.41" fill="#5868a8"/>
<rect x="859.1" y="225.18" width="6.50" height="15.41" fill="#5868a8"/>
<rect x="894.1" y="225.18" width="1.50" height="15.41" fill="#5868a8"/>
<rect x="823.7" y="240.59" width="9.00" height="15.41" fill="#5868a8"/>
<rect x="834.8" y="240.59" width="1.20" height="15.41" fill="#5868a8"/>
<rect x="837.4" y="240.59" width="33.20" height="15.41" fill="#5868a8"/>
<rect x="870.6" y="240.59" width="16.90" height="15.41" fill="#4460a8"/>
<rect x="887.5" y="240.59" width="13.50" height="15.41" fill="#5868a8"/>
<rect x="902.3" y="240.59" width="0.50" height="15.41" fill="#5868a8"/>
<rect x="910.2" y="240.59" width="4.60" height="15.41" fill="#4a74b4"/>
<rect x="917.0" y="240.59" width="15.70" height="15.41" fill="#5868a8"/>
<rect x="956.3" y="240.59" width="2.40" height="15.41" fill="#5868a8"/>
<rect x="1006.4" y="240.59" width="0.50" height="15.41" fill="#5868a8"/>
<rect x="1020.2" y="240.59" width="0.50" height="15.41" fill="#5868a8"/>
<rect x="1041.3" y="240.59" width="28.70" height="15.41" fill="#5868a8"/>
<rect x="820.0" y="256.00" width="25.30" height="15.41" fill="#4460a8"/>
<rect x="845.3" y="256.00" width="25.30" height="15.41" fill="#5868a8"/>
<rect x="870.6" y="256.00" width="33.70" height="15.41" fill="#4460a8"/>
<rect x="904.3" y="256.00" width="10.20" height="15.41" fill="#4a74b4"/>
<rect x="914.5" y="256.00" width="23.60" height="15.41" fill="#6878a8"/>
<rect x="938.1" y="256.00" width="23.60" height="15.41" fill="#4460a8"/>
<rect x="972.3" y="256.00" width="25.20" height="15.41" fill="#6878a8"/>
<rect x="1006.1" y="256.00" width="0.80" height="15.41" fill="#5868a8"/>
<rect x="1010.3" y="256.00" width="8.80" height="15.41" fill="#5868a8"/>
<rect x="1019.1" y="256.00" width="21.00" height="15.41" fill="#4460a8"/>
<rect x="1040.1" y="256.00" width="22.80" height="15.41" fill="#4a74b4"/>
<rect x="1062.9" y="256.00" width="7.10" height="15.41" fill="#4460a8"/>
<rect x="820.0" y="271.40" width="33.70" height="15.41" fill="#4460a8"/>
<rect x="853.7" y="271.40" width="15.20" height="15.41" fill="#4a74b4"/>
<rect x="868.9" y="271.40" width="16.90" height="15.41" fill="#4460a8"/>
<rect x="885.8" y="271.40" width="6.70" height="15.41" fill="#5a9aca"/>
<rect x="892.5" y="271.40" width="5.10" height="15.41" fill="#62c0de"/>
<rect x="897.6" y="271.40" width="3.40" height="15.41" fill="#5a9aca"/>
<rect x="901.0" y="271.40" width="18.50" height="15.41" fill="#4a74b4"/>
<rect x="919.5" y="271.40" width="6.80" height="15.41" fill="#62c0de"/>
<rect x="926.3" y="271.40" width="5.00" height="15.41" fill="#5a9aca"/>
<rect x="931.3" y="271.40" width="12.70" height="15.41" fill="#4a74b4"/>
<rect x="944.0" y="271.40" width="22.80" height="15.41" fill="#4460a8"/>
<rect x="966.8" y="271.40" width="10.10" height="15.41" fill="#5868a8"/>
<rect x="976.9" y="271.40" width="41.30" height="15.41" fill="#4460a8"/>
<rect x="1018.2" y="271.40" width="44.70" height="15.41" fill="#4a74b4"/>
<rect x="1062.9" y="271.40" width="7.10" height="15.41" fill="#4460a8"/>
<rect x="820.0" y="286.81" width="20.20" height="15.41" fill="#4a74b4"/>
<rect x="840.2" y="286.81" width="5.10" height="15.41" fill="#5a9aca"/>
<rect x="845.3" y="286.81" width="11.00" height="15.41" fill="#4a74b4"/>
<rect x="856.3" y="286.81" width="21.10" height="15.41" fill="#5a9aca"/>
<rect x="877.4" y="286.81" width="4.20" height="15.41" fill="#62c0de"/>
<rect x="881.6" y="286.81" width="7.60" height="15.41" fill="#4a74b4"/>
<rect x="889.2" y="286.81" width="11.80" height="15.41" fill="#5a9aca"/>
<rect x="901.0" y="286.81" width="26.10" height="15.41" fill="#62c0de"/>
<rect x="927.1" y="286.81" width="11.00" height="15.41" fill="#5a9aca"/>
<rect x="938.1" y="286.81" width="2.50" height="15.41" fill="#62c0de"/>
<rect x="940.6" y="286.81" width="14.40" height="15.41" fill="#5a9aca"/>
<rect x="955.0" y="286.81" width="5.90" height="15.41" fill="#62c0de"/>
<rect x="960.9" y="286.81" width="23.60" height="15.41" fill="#4460a8"/>
<rect x="984.5" y="286.81" width="3.30" height="15.41" fill="#4a74b4"/>
<rect x="987.8" y="286.81" width="7.60" height="15.41" fill="#4460a8"/>
<rect x="995.4" y="286.81" width="5.90" height="15.41" fill="#4a74b4"/>
<rect x="1001.3" y="286.81" width="7.60" height="15.41" fill="#5a9aca"/>
<rect x="1008.9" y="286.81" width="4.30" height="15.41" fill="#62c0de"/>
<rect x="1013.2" y="286.81" width="2.50" height="15.41" fill="#4a74b4"/>
<rect x="1015.7" y="286.81" width="14.30" height="15.41" fill="#5a9aca"/>
<rect x="1030.0" y="286.81" width="40.00" height="15.41" fill="#62c0de"/>
<rect x="820.0" y="302.23" width="25.30" height="15.41" fill="#5a9aca"/>
<rect x="845.3" y="302.23" width="54.00" height="15.41" fill="#62c0de"/>
<rect x="899.3" y="302.23" width="21.90" height="15.41" fill="#5cd2c8"/>
<rect x="921.2" y="302.23" width="10.10" height="15.41" fill="#62c0de"/>
<rect x="931.3" y="302.23" width="10.20" height="15.41" fill="#5cd2c8"/>
<rect x="941.5" y="302.23" width="2.50" height="15.41" fill="#147c1c"/>
<rect x="944.0" y="302.23" width="9.30" height="15.41" fill="#62c0de"/>
<rect x="953.3" y="302.23" width="6.70" height="15.41" fill="#18c828"/>
<rect x="960.0" y="302.23" width="8.40" height="15.41" fill="#5cd2c8"/>
<rect x="968.4" y="302.23" width="6.80" height="15.41" fill="#5a9aca"/>
<rect x="975.2" y="302.23" width="3.40" height="15.41" fill="#62c0de"/>
<rect x="978.6" y="302.23" width="7.60" height="15.41" fill="#5a9aca"/>
<rect x="986.2" y="302.23" width="9.20" height="15.41" fill="#62c0de"/>
<rect x="995.4" y="302.23" width="20.30" height="15.41" fill="#5cd2c8"/>
<rect x="1015.7" y="302.23" width="5.00" height="15.41" fill="#3cd46c"/>
<rect x="1020.7" y="302.23" width="4.30" height="15.41" fill="#5cd2c8"/>
<rect x="1025.0" y="302.23" width="5.00" height="15.41" fill="#3cd46c"/>
<rect x="1030.0" y="302.23" width="22.80" height="15.41" fill="#5cd2c8"/>
<rect x="1052.8" y="302.23" width="17.20" height="15.41" fill="#62c0de"/>
<rect x="820.0" y="317.63" width="12.70" height="15.41" fill="#62c0de"/>
<rect x="832.7" y="317.63" width="12.60" height="15.41" fill="#5cd2c8"/>
<rect x="845.3" y="317.63" width="15.20" height="15.41" fill="#62c0de"/>
<rect x="860.5" y="317.63" width="2.50" height="15.41" fill="#3cd46c"/>
<rect x="863.0" y="317.63" width="12.70" height="15.41" fill="#62c0de"/>
<rect x="875.7" y="317.63" width="3.30" height="15.41" fill="#3cd46c"/>
<rect x="879.0" y="317.63" width="8.50" height="15.41" fill="#5cd2c8"/>
<rect x="887.5" y="317.63" width="3.40" height="15.41" fill="#3cd46c"/>
<rect x="890.9" y="317.63" width="8.40" height="15.41" fill="#62c0de"/>
<rect x="899.3" y="317.63" width="3.40" height="15.41" fill="#3cd46c"/>
<rect x="902.7" y="317.63" width="5.00" height="15.41" fill="#5cd2c8"/>
<rect x="907.7" y="317.63" width="4.20" height="15.41" fill="#3cd46c"/>
<rect x="911.9" y="317.63" width="11.00" height="15.41" fill="#5cd2c8"/>
<rect x="922.9" y="317.63" width="18.60" height="15.41" fill="#18c828"/>
<rect x="941.5" y="317.63" width="2.50" height="15.41" fill="#147c1c"/>
<rect x="944.0" y="317.63" width="16.00" height="15.41" fill="#18c828"/>
<rect x="960.0" y="317.63" width="2.50" height="15.41" fill="#189420"/>
<rect x="962.5" y="317.63" width="14.40" height="15.41" fill="#3cd46c"/>
<rect x="976.9" y="317.63" width="10.10" height="15.41" fill="#62c0de"/>
<rect x="987.0" y="317.63" width="10.10" height="15.41" fill="#3cd46c"/>
<rect x="997.1" y="317.63" width="18.60" height="15.41" fill="#62c0de"/>
<rect x="1015.7" y="317.63" width="5.00" height="15.41" fill="#3cd46c"/>
<rect x="1020.7" y="317.63" width="16.90" height="15.41" fill="#62c0de"/>
<rect x="1037.6" y="317.63" width="2.50" height="15.41" fill="#18c828"/>
<rect x="1040.1" y="317.63" width="16.10" height="15.41" fill="#5cd2c8"/>
<rect x="1056.2" y="317.63" width="3.30" height="15.41" fill="#3cd46c"/>
<rect x="1059.5" y="317.63" width="10.50" height="15.41" fill="#5cd2c8"/>
<rect x="820.0" y="333.05" width="10.10" height="15.41" fill="#5cd2c8"/>
<rect x="830.1" y="333.05" width="9.30" height="15.41" fill="#62c0de"/>
<rect x="839.4" y="333.05" width="11.80" height="15.41" fill="#18c828"/>
<rect x="851.2" y="333.05" width="2.50" height="15.41" fill="#3cd46c"/>
<rect x="853.7" y="333.05" width="11.80" height="15.41" fill="#18c828"/>
<rect x="865.5" y="333.05" width="1.70" height="15.41" fill="#3cd46c"/>
<rect x="867.2" y="333.05" width="20.30" height="15.41" fill="#18c828"/>
<rect x="887.5" y="333.05" width="6.70" height="15.41" fill="#3cd46c"/>
<rect x="894.2" y="333.05" width="65.80" height="15.41" fill="#18c828"/>
<rect x="960.0" y="333.05" width="2.50" height="15.41" fill="#189420"/>
<rect x="962.5" y="333.05" width="5.90" height="15.41" fill="#18c828"/>
<rect x="968.4" y="333.05" width="13.50" height="15.41" fill="#5cd2c8"/>
<rect x="981.9" y="333.05" width="6.80" height="15.41" fill="#18c828"/>
<rect x="988.7" y="333.05" width="1.70" height="15.41" fill="#3cd46c"/>
<rect x="990.4" y="333.05" width="8.40" height="15.41" fill="#18c828"/>
<rect x="998.8" y="333.05" width="8.40" height="15.41" fill="#5cd2c8"/>
<rect x="1007.2" y="333.05" width="8.50" height="15.41" fill="#18c828"/>
<rect x="1015.7" y="333.05" width="4.20" height="15.41" fill="#3cd46c"/>
<rect x="1019.9" y="333.05" width="21.10" height="15.41" fill="#18c828"/>
<rect x="1041.0" y="333.05" width="21.90" height="15.41" fill="#5cd2c8"/>
<rect x="1062.9" y="333.05" width="7.10" height="15.41" fill="#3cd46c"/>
<rect x="820.0" y="348.46" width="10.10" height="15.41" fill="#18c828"/>
<rect x="830.1" y="348.46" width="17.70" height="15.41" fill="#18a820"/>
<rect x="847.8" y="348.46" width="51.50" height="15.41" fill="#18b828"/>
<rect x="899.3" y="348.46" width="32.00" height="15.41" fill="#18a820"/>
<rect x="931.3" y="348.46" width="35.50" height="15.41" fill="#18b828"/>
<rect x="966.8" y="348.46" width="10.90" height="15.41" fill="#18c828"/>
<rect x="977.7" y="348.46" width="1.70" height="15.41" fill="#18a820"/>
<rect x="979.4" y="348.46" width="17.70" height="15.41" fill="#18c828"/>
<rect x="997.1" y="348.46" width="15.20" height="15.41" fill="#3cd46c"/>
<rect x="1012.3" y="348.46" width="5.90" height="15.41" fill="#18b828"/>
<rect x="1018.2" y="348.46" width="22.80" height="15.41" fill="#18c828"/>
<rect x="1041.0" y="348.46" width="3.40" height="15.41" fill="#3cd46c"/>
<rect x="1044.4" y="348.46" width="11.80" height="15.41" fill="#18c828"/>
<rect x="1056.2" y="348.46" width="2.50" height="15.41" fill="#3cd46c"/>
<rect x="1058.7" y="348.46" width="11.30" height="15.41" fill="#18c828"/>
<rect x="1070.0" y="240.59" width="11.00" height="15.41" fill="#5868a8"/>
<rect x="1070.0" y="256.00" width="11.00" height="15.41" fill="#4460a8"/>
<rect x="1081.0" y="256.00" width="24.80" height="15.41" fill="#6878a8"/>
<rect x="1107.1" y="256.00" width="7.60" height="15.41" fill="#5868a8"/>
<rect x="1146.2" y="256.00" width="2.20" height="15.41" fill="#5868a8"/>
<rect x="1150.1" y="256.00" width="1.70" height="15.41" fill="#5868a8"/>
<rect x="1160.2" y="256.00" width="1.70" height="15.41" fill="#5868a8"/>
<rect x="1070.0" y="271.40" width="11.00" height="15.41" fill="#4460a8"/>
<rect x="1081.0" y="271.40" width="41.00" height="15.41" fill="#5868a8"/>
<rect x="1146.2" y="271.40" width="2.20" height="15.41" fill="#5868a8"/>
<rect x="1150.1" y="271.40" width="2.60" height="15.41" fill="#5868a8"/>
<rect x="1160.2" y="271.40" width="1.70" height="15.41" fill="#5868a8"/>
<rect x="1209.2" y="271.40" width="5.90" height="15.41" fill="#4460a8"/>
<rect x="1215.1" y="271.40" width="26.60" height="15.41" fill="#5868a8"/>
<rect x="1070.0" y="286.81" width="8.40" height="15.41" fill="#5a9aca"/>
<rect x="1078.4" y="286.81" width="1.70" height="15.41" fill="#62c0de"/>
<rect x="1080.1" y="286.81" width="19.40" height="15.41" fill="#4460a8"/>
<rect x="1099.5" y="286.81" width="22.80" height="15.41" fill="#5868a8"/>
<rect x="1122.3" y="286.81" width="21.90" height="15.41" fill="#4460a8"/>
<rect x="1144.2" y="286.81" width="5.10" height="15.41" fill="#4a74b4"/>
<rect x="1149.3" y="286.81" width="3.40" height="15.41" fill="#4460a8"/>
<rect x="1152.7" y="286.81" width="4.20" height="15.41" fill="#4a74b4"/>
<rect x="1156.9" y="286.81" width="1.70" height="15.41" fill="#62c0de"/>
<rect x="1158.6" y="286.81" width="5.90" height="15.41" fill="#4a74b4"/>
<rect x="1164.5" y="286.81" width="18.90" height="15.41" fill="#4460a8"/>
<rect x="1189.4" y="286.81" width="8.50" height="15.41" fill="#4460a8"/>
<rect x="1199.0" y="286.81" width="43.40" height="15.41" fill="#5868a8"/>
<rect x="1070.0" y="302.23" width="11.00" height="15.41" fill="#4a74b4"/>
<rect x="1081.0" y="302.23" width="10.10" height="15.41" fill="#4460a8"/>
<rect x="1091.1" y="302.23" width="34.60" height="15.41" fill="#62c0de"/>
<rect x="1125.7" y="302.23" width="18.50" height="15.41" fill="#5a9aca"/>
<rect x="1144.2" y="302.23" width="5.10" height="15.41" fill="#4a74b4"/>
<rect x="1149.3" y="302.23" width="10.10" height="15.41" fill="#5a9aca"/>
<rect x="1159.4" y="302.23" width="6.80" height="15.41" fill="#4a74b4"/>
<rect x="1166.2" y="302.23" width="8.40" height="15.41" fill="#5a9aca"/>
<rect x="1174.6" y="302.23" width="13.50" height="15.41" fill="#62c0de"/>
<rect x="1188.1" y="302.23" width="10.90" height="15.41" fill="#5a9aca"/>
<rect x="1199.0" y="302.23" width="43.40" height="15.41" fill="#5868a8"/>
<rect x="1253.0" y="302.23" width="67.00" height="15.41" fill="#4460a8"/>
<rect x="1070.0" y="317.63" width="11.00" height="15.41" fill="#5cd2c8"/>
<rect x="1081.0" y="317.63" width="5.90" height="15.41" fill="#3cd46c"/>
<rect x="1086.9" y="317.63" width="5.00" height="15.41" fill="#5cd2c8"/>
<rect x="1091.9" y="317.63" width="22.00" height="15.41" fill="#62c0de"/>
<rect x="1113.9" y="317.63" width="6.70" height="15.41" fill="#18c828"/>
<rect x="1120.6" y="317.63" width="10.10" height="15.41" fill="#62c0de"/>
<rect x="1130.7" y="317.63" width="43.90" height="15.41" fill="#5a9aca"/>
<rect x="1174.6" y="317.63" width="13.50" height="15.41" fill="#62c0de"/>
<rect x="1188.1" y="317.63" width="3.40" height="15.41" fill="#5a9aca"/>
<rect x="1191.5" y="317.63" width="13.50" height="15.41" fill="#5084be"/>
<rect x="1205.0" y="317.63" width="2.00" height="15.41" fill="#5a9aca"/>
<rect x="1207.0" y="317.63" width="11.40" height="15.41" fill="#5084be"/>
<rect x="1218.4" y="317.63" width="2.60" height="15.41" fill="#5a9aca"/>
<rect x="1221.0" y="317.63" width="10.90" height="15.41" fill="#5084be"/>
<rect x="1231.9" y="317.63" width="2.10" height="15.41" fill="#5a9aca"/>
<rect x="1234.0" y="317.63" width="11.40" height="15.41" fill="#5084be"/>
<rect x="1245.4" y="317.63" width="2.10" height="15.41" fill="#5a9aca"/>
<rect x="1247.5" y="317.63" width="8.10" height="15.41" fill="#5084be"/>
<rect x="1255.6" y="317.63" width="10.10" height="15.41" fill="#4a74b4"/>
<rect x="1265.7" y="317.63" width="54.30" height="15.41" fill="#4460a8"/>
<rect x="1070.0" y="333.05" width="10.10" height="15.41" fill="#5cd2c8"/>
<rect x="1080.1" y="333.05" width="6.80" height="15.41" fill="#62c0de"/>
<rect x="1086.9" y="333.05" width="5.00" height="15.41" fill="#5cd2c8"/>
<rect x="1091.9" y="333.05" width="20.30" height="15.41" fill="#62c0de"/>
<rect x="1112.2" y="333.05" width="18.50" height="15.41" fill="#18c828"/>
<rect x="1130.7" y="333.05" width="2.60" height="15.41" fill="#3cd46c"/>
<rect x="1133.3" y="333.05" width="7.60" height="15.41" fill="#18c828"/>
<rect x="1140.9" y="333.05" width="4.20" height="15.41" fill="#3cd46c"/>
<rect x="1145.1" y="333.05" width="5.90" height="15.41" fill="#18c828"/>
<rect x="1151.0" y="333.05" width="1.70" height="15.41" fill="#5cd2c8"/>
<rect x="1152.7" y="333.05" width="3.30" height="15.41" fill="#18c828"/>
<rect x="1156.0" y="333.05" width="3.40" height="15.41" fill="#3cd46c"/>
<rect x="1159.4" y="333.05" width="3.40" height="15.41" fill="#18c828"/>
<rect x="1162.8" y="333.05" width="9.30" height="15.41" fill="#3cd46c"/>
<rect x="1172.1" y="333.05" width="16.00" height="15.41" fill="#62c0de"/>
<rect x="1188.1" y="333.05" width="8.40" height="15.41" fill="#5a9aca"/>
<rect x="1196.5" y="333.05" width="8.50" height="15.41" fill="#5084be"/>
<rect x="1205.0" y="333.05" width="2.00" height="15.41" fill="#5a9aca"/>
<rect x="1207.0" y="333.05" width="11.40" height="15.41" fill="#5084be"/>
<rect x="1218.4" y="333.05" width="2.60" height="15.41" fill="#5a9aca"/>
<rect x="1221.0" y="333.05" width="10.90" height="15.41" fill="#5084be"/>
<rect x="1231.9" y="333.05" width="2.10" height="15.41" fill="#5a9aca"/>
<rect x="1234.0" y="333.05" width="11.40" height="15.41" fill="#5084be"/>
<rect x="1245.4" y="333.05" width="2.10" height="15.41" fill="#5a9aca"/>
<rect x="1247.5" y="333.05" width="8.10" height="15.41" fill="#5084be"/>
<rect x="1255.6" y="333.05" width="10.10" height="15.41" fill="#4a74b4"/>
<rect x="1265.7" y="333.05" width="54.30" height="15.41" fill="#4460a8"/>
<rect x="1070.0" y="348.46" width="17.70" height="15.41" fill="#18b828"/>
<rect x="1087.7" y="348.46" width="9.30" height="15.41" fill="#18a820"/>
<rect x="1097.0" y="348.46" width="15.20" height="15.41" fill="#18b828"/>
<rect x="1112.2" y="348.46" width="18.50" height="15.41" fill="#18c828"/>
<rect x="1130.7" y="348.46" width="2.60" height="15.41" fill="#3cd46c"/>
<rect x="1133.3" y="348.46" width="7.60" height="15.41" fill="#18c828"/>
<rect x="1140.9" y="348.46" width="4.20" height="15.41" fill="#3cd46c"/>
<rect x="1145.1" y="348.46" width="5.90" height="15.41" fill="#18c828"/>
<rect x="1151.0" y="348.46" width="1.70" height="15.41" fill="#5cd2c8"/>
<rect x="1152.7" y="348.46" width="3.30" height="15.41" fill="#18c828"/>
<rect x="1156.0" y="348.46" width="3.40" height="15.41" fill="#3cd46c"/>
<rect x="1159.4" y="348.46" width="3.40" height="15.41" fill="#18c828"/>
<rect x="1162.8" y="348.46" width="9.30" height="15.41" fill="#3cd46c"/>
<rect x="1172.1" y="348.46" width="5.90" height="15.41" fill="#62c0de"/>
<rect x="1178.0" y="348.46" width="10.10" height="15.41" fill="#4a74b4"/>
<rect x="1188.1" y="348.46" width="10.10" height="15.41" fill="#5a9aca"/>
<rect x="1198.2" y="348.46" width="6.80" height="15.41" fill="#5084be"/>
<rect x="1205.0" y="348.46" width="2.00" height="15.41" fill="#5a9aca"/>
<rect x="1207.0" y="348.46" width="11.40" height="15.41" fill="#5084be"/>
<rect x="1218.4" y="348.46" width="2.60" height="15.41" fill="#5a9aca"/>
<rect x="1221.0" y="348.46" width="12.60" height="15.41" fill="#5084be"/>
<rect x="1320" y="302.23" width="0.00" height="46.23" fill="#4460a8"/>
<rect x="1323.0" y="302.23" width="2.60" height="30.82" fill="#4460a8"/>
<rect x="1341.5" y="286.81" width="4.20" height="46.23" fill="#5868a8"/>
<rect x="1347.4" y="286.81" width="3.50" height="46.23" fill="#5868a8"/>
<rect x="1353.1" y="286.81" width="1.70" height="46.23" fill="#5868a8"/>
<rect x="1190.2" y="225.18" width="14.50" height="61.64" fill="#5cd2c8"/>
<rect x="325.3" y="363.87" width="11.00" height="15.41" fill="#5a9aca"/>
<rect x="336.3" y="363.87" width="5.00" height="15.41" fill="#62c0de"/>
<rect x="341.3" y="363.87" width="26.20" height="15.41" fill="#5cd2c8"/>
<rect x="367.5" y="363.87" width="5.00" height="15.41" fill="#3cd46c"/>
<rect x="372.5" y="363.87" width="6.80" height="15.41" fill="#5cd2c8"/>
<rect x="379.3" y="363.87" width="3.40" height="15.41" fill="#3cd46c"/>
<rect x="382.7" y="363.87" width="3.30" height="15.41" fill="#5cd2c8"/>
<rect x="386.0" y="363.87" width="8.50" height="15.41" fill="#3cd46c"/>
<rect x="394.5" y="363.87" width="5.00" height="15.41" fill="#5cd2c8"/>
<rect x="399.5" y="363.87" width="2.60" height="15.41" fill="#3cd46c"/>
<rect x="402.1" y="363.87" width="5.00" height="15.41" fill="#5cd2c8"/>
<rect x="407.1" y="363.87" width="9.00" height="15.41" fill="#3cd46c"/>
<rect x="416.1" y="363.87" width="20.50" height="15.41" fill="#18a820"/>
<rect x="436.6" y="363.87" width="11.80" height="15.41" fill="#18b828"/>
<rect x="448.4" y="363.87" width="1.70" height="15.41" fill="#3cd46c"/>
<rect x="450.1" y="363.87" width="21.10" height="15.41" fill="#18b828"/>
<rect x="471.2" y="363.87" width="10.10" height="15.41" fill="#18c828"/>
<rect x="481.3" y="363.87" width="1.70" height="15.41" fill="#3cd46c"/>
<rect x="483.0" y="363.87" width="2.60" height="15.41" fill="#18c828"/>
<rect x="485.6" y="363.87" width="1.60" height="15.41" fill="#3cd46c"/>
<rect x="487.2" y="363.87" width="5.10" height="15.41" fill="#18c828"/>
<rect x="492.3" y="363.87" width="1.70" height="15.41" fill="#3cd46c"/>
<rect x="494.0" y="363.87" width="6.70" height="15.41" fill="#18c828"/>
<rect x="500.7" y="363.87" width="23.70" height="15.41" fill="#18b828"/>
<rect x="524.4" y="363.87" width="25.60" height="15.41" fill="#18b828"/>
<rect x="550.0" y="363.87" width="21.90" height="15.41" fill="#18c828"/>
<rect x="571.9" y="363.87" width="22.00" height="15.41" fill="#18b828"/>
<rect x="593.9" y="363.87" width="15.10" height="15.41" fill="#3cd46c"/>
<rect x="609.0" y="363.87" width="3.40" height="15.41" fill="#18c828"/>
<rect x="612.4" y="363.87" width="5.10" height="15.41" fill="#3cd46c"/>
<rect x="617.5" y="363.87" width="1.70" height="15.41" fill="#18c828"/>
<rect x="619.2" y="363.87" width="10.90" height="15.41" fill="#3cd46c"/>
<rect x="630.1" y="363.87" width="1.70" height="15.41" fill="#18c828"/>
<rect x="631.8" y="363.87" width="10.10" height="15.41" fill="#3cd46c"/>
<rect x="641.9" y="363.87" width="3.40" height="15.41" fill="#18c828"/>
<rect x="645.3" y="363.87" width="6.80" height="15.41" fill="#5cd2c8"/>
<rect x="652.1" y="363.87" width="7.50" height="15.41" fill="#3cd46c"/>
<rect x="659.6" y="363.87" width="13.50" height="15.41" fill="#5cd2c8"/>
<rect x="673.1" y="363.87" width="8.50" height="15.41" fill="#18c828"/>
<rect x="681.6" y="363.87" width="5.00" height="15.41" fill="#5cd2c8"/>
<rect x="686.6" y="363.87" width="5.10" height="15.41" fill="#18c828"/>
<rect x="691.7" y="363.87" width="10.10" height="15.41" fill="#3cd46c"/>
<rect x="701.8" y="363.87" width="2.60" height="15.41" fill="#18c828"/>
<rect x="704.4" y="363.87" width="4.20" height="15.41" fill="#3cd46c"/>
<rect x="708.6" y="363.87" width="7.60" height="15.41" fill="#18c828"/>
<rect x="716.2" y="363.87" width="1.60" height="15.41" fill="#3cd46c"/>
<rect x="717.8" y="363.87" width="2.60" height="15.41" fill="#18c828"/>
<rect x="720.4" y="363.87" width="1.70" height="15.41" fill="#3cd46c"/>
<rect x="722.1" y="363.87" width="5.00" height="15.41" fill="#18b828"/>
<rect x="727.1" y="363.87" width="4.20" height="15.41" fill="#18a820"/>
<rect x="731.3" y="363.87" width="9.30" height="15.41" fill="#18b828"/>
<rect x="740.6" y="363.87" width="5.90" height="15.41" fill="#3cd46c"/>
<rect x="746.5" y="363.87" width="1.70" height="15.41" fill="#18c828"/>
<rect x="748.2" y="363.87" width="14.40" height="15.41" fill="#3cd46c"/>
<rect x="762.6" y="363.87" width="1.60" height="15.41" fill="#18c828"/>
<rect x="764.2" y="363.87" width="12.70" height="15.41" fill="#3cd46c"/>
<rect x="776.9" y="363.87" width="5.90" height="15.41" fill="#18c828"/>
<rect x="782.8" y="363.87" width="17.20" height="15.41" fill="#18b828"/>
<rect x="800.0" y="363.87" width="5.10" height="15.41" fill="#18c828"/>
<rect x="805.1" y="363.87" width="4.20" height="15.41" fill="#3c8418"/>
<rect x="809.3" y="363.87" width="7.60" height="15.41" fill="#18b828"/>
<rect x="816.9" y="363.87" width="57.30" height="15.41" fill="#18a820"/>
<rect x="874.2" y="363.87" width="5.10" height="15.41" fill="#189420"/>
<rect x="879.3" y="363.87" width="21.90" height="15.41" fill="#18a820"/>
<rect x="901.2" y="363.87" width="16.90" height="15.41" fill="#189420"/>
<rect x="918.1" y="363.87" width="20.20" height="15.41" fill="#18b828"/>
<rect x="938.3" y="363.87" width="1.70" height="15.41" fill="#189420"/>
<rect x="940.0" y="363.87" width="11.80" height="15.41" fill="#18b828"/>
<rect x="951.8" y="363.87" width="8.50" height="15.41" fill="#18a820"/>
<rect x="960.3" y="363.87" width="16.00" height="15.41" fill="#18b828"/>
<rect x="976.3" y="363.87" width="46.40" height="15.41" fill="#18c828"/>
<rect x="1022.7" y="363.87" width="2.50" height="15.41" fill="#3cd46c"/>
<rect x="1025.2" y="363.87" width="24.80" height="15.41" fill="#18c828"/>
<rect x="1036.9" y="363.87" width="6.70" height="15.41" fill="#18c828"/>
<rect x="1043.6" y="363.87" width="43.90" height="15.41" fill="#18b828"/>
<rect x="1087.5" y="363.87" width="11.80" height="15.41" fill="#18a820"/>
<rect x="1099.3" y="363.87" width="16.00" height="15.41" fill="#18c828"/>
<rect x="1115.3" y="363.87" width="4.20" height="15.41" fill="#5cd2c8"/>
<rect x="1119.5" y="363.87" width="5.40" height="15.41" fill="#4460a8"/>
<rect x="471.1" y="379.28" width="10.60" height="15.41" fill="#18c828"/>
<rect x="481.7" y="379.28" width="1.00" height="15.41" fill="#3cd46c"/>
<rect x="482.7" y="379.28" width="3.00" height="15.41" fill="#18c828"/>
<rect x="485.7" y="379.28" width="1.10" height="15.41" fill="#3cd46c"/>
<rect x="486.8" y="379.28" width="5.50" height="15.41" fill="#18c828"/>
<rect x="492.3" y="379.28" width="1.50" height="15.41" fill="#3cd46c"/>
<rect x="493.8" y="379.28" width="2.10" height="15.41" fill="#18c828"/>
<rect x="495.9" y="379.28" width="3.50" height="15.41" fill="#3cd46c"/>
<rect x="499.4" y="379.28" width="8.10" height="15.41" fill="#18b828"/>
<rect x="507.5" y="379.28" width="2.50" height="15.41" fill="#3cd46c"/>
<rect x="510.0" y="379.28" width="2.10" height="15.41" fill="#18c828"/>
<rect x="512.1" y="379.28" width="1.00" height="15.41" fill="#3cd46c"/>
<rect x="513.1" y="379.28" width="2.00" height="15.41" fill="#18c828"/>
<rect x="515.1" y="379.28" width="1.00" height="15.41" fill="#3cd46c"/>
<rect x="516.1" y="379.28" width="5.60" height="15.41" fill="#18c828"/>
<rect x="521.7" y="379.28" width="6.10" height="15.41" fill="#18b828"/>
<rect x="527.8" y="379.28" width="2.00" height="15.41" fill="#ffb800"/>
<rect x="529.8" y="379.28" width="2.50" height="15.41" fill="#147c1c"/>
<rect x="532.3" y="379.28" width="3.60" height="15.41" fill="#18a820"/>
<rect x="535.9" y="379.28" width="1.50" height="15.41" fill="#189420"/>
<rect x="537.4" y="379.28" width="5.50" height="15.41" fill="#18b828"/>
<rect x="542.9" y="379.28" width="1.00" height="15.41" fill="#3cd46c"/>
<rect x="543.9" y="379.28" width="3.10" height="15.41" fill="#18b828"/>
<rect x="547.0" y="379.28" width="2.00" height="15.41" fill="#189420"/>
<rect x="549.0" y="379.28" width="3.00" height="15.41" fill="#3cd46c"/>
<rect x="552.0" y="379.28" width="4.60" height="15.41" fill="#18b828"/>
<rect x="556.6" y="379.28" width="2.00" height="15.41" fill="#3cd46c"/>
<rect x="558.6" y="379.28" width="3.60" height="15.41" fill="#18b828"/>
<rect x="562.2" y="379.28" width="1.20" height="15.41" fill="#a0b010"/>
<rect x="563.4" y="379.28" width="3.80" height="15.41" fill="#189420"/>
<rect x="567.2" y="379.28" width="1.00" height="15.41" fill="#3cd46c"/>
<rect x="568.2" y="379.28" width="7.10" height="15.41" fill="#18a820"/>
<rect x="575.3" y="379.28" width="7.10" height="15.41" fill="#18b828"/>
<rect x="582.4" y="379.28" width="11.10" height="15.41" fill="#18c828"/>
<rect x="593.5" y="379.28" width="4.10" height="15.41" fill="#18b828"/>
<rect x="597.6" y="379.28" width="6.60" height="15.41" fill="#189420"/>
<rect x="604.2" y="379.28" width="1.50" height="15.41" fill="#3cd46c"/>
<rect x="605.7" y="379.28" width="5.00" height="15.41" fill="#18c828"/>
<rect x="610.7" y="379.28" width="1.10" height="15.41" fill="#3cd46c"/>
<rect x="611.8" y="379.28" width="3.20" height="15.41" fill="#18c828"/>
<rect x="610.0" y="379.28" width="3.00" height="15.41" fill="#18c828"/>
<rect x="613.0" y="379.28" width="3.10" height="15.41" fill="#3cd46c"/>
<rect x="616.1" y="379.28" width="26.30" height="15.41" fill="#18b828"/>
<rect x="642.4" y="379.28" width="1.50" height="15.41" fill="#189420"/>
<rect x="643.9" y="379.28" width="3.00" height="15.41" fill="#a0b010"/>
<rect x="646.9" y="379.28" width="1.60" height="15.41" fill="#189420"/>
<rect x="648.5" y="379.28" width="13.10" height="15.41" fill="#18b828"/>
<rect x="661.6" y="379.28" width="2.50" height="15.41" fill="#3cd46c"/>
<rect x="664.1" y="379.28" width="7.60" height="15.41" fill="#18c828"/>
<rect x="671.7" y="379.28" width="1.60" height="15.41" fill="#3cd46c"/>
<rect x="673.3" y="379.28" width="1.50" height="15.41" fill="#18c828"/>
<rect x="674.8" y="379.28" width="5.00" height="15.41" fill="#3cd46c"/>
<rect x="679.8" y="379.28" width="4.10" height="15.41" fill="#3c8418"/>
<rect x="683.9" y="379.28" width="3.00" height="15.41" fill="#a0b010"/>
<rect x="686.9" y="379.28" width="1.50" height="15.41" fill="#3c8418"/>
<rect x="688.4" y="379.28" width="2.60" height="15.41" fill="#18c828"/>
<rect x="691.0" y="379.28" width="3.00" height="15.41" fill="#3cd46c"/>
<rect x="694.0" y="379.28" width="2.50" height="15.41" fill="#18c828"/>
<rect x="696.5" y="379.28" width="3.60" height="15.41" fill="#3cd46c"/>
<rect x="700.1" y="379.28" width="4.00" height="15.41" fill="#18c828"/>
<rect x="704.1" y="379.28" width="5.60" height="15.41" fill="#ffb800"/>
<rect x="709.7" y="379.28" width="4.60" height="15.41" fill="#ff9c00"/>
<rect x="714.3" y="379.28" width="2.00" height="15.41" fill="#ffb800"/>
<rect x="716.3" y="379.28" width="5.00" height="15.41" fill="#a0b010"/>
<rect x="721.3" y="379.28" width="1.00" height="15.41" fill="#3c8418"/>
<rect x="722.3" y="379.28" width="4.60" height="15.41" fill="#a0b010"/>
<rect x="726.9" y="379.28" width="5.10" height="15.41" fill="#189420"/>
<rect x="732.0" y="379.28" width="2.00" height="15.41" fill="#a0b010"/>
<rect x="734.0" y="379.28" width="3.00" height="15.41" fill="#18a820"/>
<rect x="737.0" y="379.28" width="3.10" height="15.41" fill="#ff9c00"/>
<rect x="740.1" y="379.28" width="5.50" height="15.41" fill="#189420"/>
<rect x="745.6" y="379.28" width="4.60" height="15.41" fill="#ffd800"/>
<rect x="750.2" y="379.28" width="2.50" height="15.41" fill="#147c1c"/>
<rect x="752.7" y="379.28" width="7.30" height="15.41" fill="#18b828"/>
<rect x="755.0" y="379.28" width="4.00" height="15.41" fill="#18b828"/>
<rect x="759.0" y="379.28" width="3.10" height="15.41" fill="#147c1c"/>
<rect x="762.1" y="379.28" width="3.00" height="15.41" fill="#18a820"/>
<rect x="765.1" y="379.28" width="3.10" height="15.41" fill="#147c1c"/>
<rect x="768.2" y="379.28" width="3.00" height="15.41" fill="#18b828"/>
<rect x="771.2" y="379.28" width="2.00" height="15.41" fill="#147c1c"/>
<rect x="773.2" y="379.28" width="4.60" height="15.41" fill="#189420"/>
<rect x="777.8" y="379.28" width="5.00" height="15.41" fill="#18c828"/>
<rect x="782.8" y="379.28" width="2.40" height="15.41" fill="#ffd800"/>
<rect x="785.2" y="379.28" width="3.20" height="15.41" fill="#3c8418"/>
<rect x="788.4" y="379.28" width="2.50" height="15.41" fill="#18b828"/>
<rect x="790.9" y="379.28" width="9.10" height="15.41" fill="#189420"/>
<rect x="800.0" y="379.28" width="2.10" height="15.41" fill="#3c8418"/>
<rect x="802.1" y="379.28" width="4.00" height="15.41" fill="#147c1c"/>
<rect x="806.1" y="379.28" width="3.60" height="15.41" fill="#3c8418"/>
<rect x="809.7" y="379.28" width="9.10" height="15.41" fill="#18c828"/>
<rect x="818.8" y="379.28" width="3.50" height="15.41" fill="#ffd800"/>
<rect x="822.3" y="379.28" width="2.00" height="15.41" fill="#3c8418"/>
<rect x="824.3" y="379.28" width="9.60" height="15.41" fill="#18c828"/>
<rect x="833.9" y="379.28" width="18.30" height="15.41" fill="#18a820"/>
<rect x="852.2" y="379.28" width="52.80" height="15.41" fill="#18b828"/>
<rect x="904.9" y="379.28" width="73.90" height="15.41" fill="#18b828"/>
<rect x="667.0" y="194.36" width="1.00" height="30.82" fill="#5868a8"/>
<rect x="673.0" y="194.36" width="1.00" height="15.41" fill="#5868a8"/>
<rect x="672.3" y="209.77" width="1.90" height="15.41" fill="#5868a8"/>
<rect x="681.1" y="209.77" width="0.80" height="15.41" fill="#5868a8"/>
<rect x="688.8" y="194.36" width="2.40" height="15.41" fill="#5868a8"/>
<rect x="687.8" y="209.77" width="5.40" height="15.41" fill="#5868a8"/>
<rect x="688.8" y="209.77" width="2.40" height="15.41" fill="#5a9aca"/>
<rect x="696.9" y="209.77" width="0.90" height="15.41" fill="#5868a8"/>
<rect x="709.0" y="178.95" width="3.90" height="46.23" fill="#5868a8"/>
<rect x="715.1" y="209.77" width="1.80" height="15.41" fill="#5868a8"/>
<rect x="721.0" y="209.77" width="9.70" height="15.41" fill="#5868a8"/>
<rect x="737.2" y="209.77" width="1.80" height="15.41" fill="#5868a8"/>
<rect x="763.1" y="163.53" width="2.20" height="61.64" fill="#5868a8"/>
<rect x="768.1" y="163.53" width="2.10" height="61.64" fill="#5868a8"/>
<rect x="788.4" y="132.72" width="1.50" height="92.46" fill="#5868a8"/>
<rect x="823.2" y="194.36" width="0.80" height="30.82" fill="#5868a8"/>
<rect x="823.2" y="209.77" width="1.80" height="15.41" fill="#5868a8"/>
<rect x="829.9" y="209.77" width="2.00" height="15.41" fill="#5868a8"/>
<rect x="836.3" y="178.95" width="2.70" height="15.41" fill="#5868a8"/>
<rect x="841.0" y="178.95" width="1.20" height="15.41" fill="#5868a8"/>
<rect x="844" y="178.95" width="3.10" height="15.41" fill="#5868a8"/>
<rect x="837" y="194.36" width="9.60" height="30.82" fill="#5868a8"/>
<rect x="849.1" y="148.12" width="3.00" height="77.05" fill="#5868a8"/>
<rect x="854.2" y="178.95" width="1.60" height="46.23" fill="#5868a8"/>
<rect x="855.2" y="209.77" width="1.80" height="15.41" fill="#5868a8"/>
<rect x="883.3" y="71.07" width="1.40" height="30.82" fill="#5868a8"/>
<rect x="884.0" y="101.89" width="1.00" height="77.05" fill="#5868a8"/>
<rect x="916.5" y="194.36" width="3.40" height="46.23" fill="#ff8000"/>
<rect x="923.2" y="132.72" width="9.60" height="61.64" fill="#6878a8"/>
<rect x="908" y="55.67" width="10.10" height="61.64" fill="#18a820"/>
<rect x="918.1" y="55.67" width="9.70" height="61.64" fill="#147c1c"/>
<rect x="994.3" y="40.25" width="11.40" height="61.64" fill="#147c1c"/>
<rect x="997.4" y="101.89" width="4.40" height="61.64" fill="#4a74b4"/>
<rect x="1001.8" y="101.89" width="6.10" height="61.64" fill="#5cd2c8"/>
<rect x="1028.5" y="40.25" width="4.50" height="15.41" fill="#18a820"/>
<rect x="1033" y="40.25" width="4.20" height="15.41" fill="#ffd800"/>
<rect x="1037.2" y="40.25" width="3.20" height="15.41" fill="#147c1c"/>
<rect x="1027.4" y="55.67" width="5.60" height="15.41" fill="#18a820"/>
<rect x="1033" y="55.67" width="4.20" height="15.41" fill="#ffb800"/>
<rect x="1037.2" y="55.67" width="3.20" height="15.41" fill="#147c1c"/>
<rect x="1028.7" y="71.07" width="4.30" height="30.82" fill="#18a820"/>
<rect x="1033" y="71.07" width="4.20" height="30.82" fill="#ffb800"/>
<rect x="1037.2" y="71.07" width="4.70" height="30.82" fill="#147c1c"/>
<rect x="1024.9" y="101.89" width="8.10" height="30.82" fill="#18a820"/>
<rect x="1033" y="101.89" width="4.70" height="30.82" fill="#ffb800"/>
<rect x="1037.7" y="101.89" width="4.20" height="30.82" fill="#147c1c"/>
<rect x="1024.9" y="132.72" width="5.10" height="46.23" fill="#18a820"/>
<rect x="1039.1" y="132.72" width="4.60" height="46.23" fill="#4a74b4"/>
<rect x="1072.7" y="40.25" width="2.30" height="61.64" fill="#147c1c"/>
<rect x="1075" y="40.25" width="5.70" height="61.64" fill="#3c8418"/>
<rect x="1128.3" y="86.49" width="1.00" height="61.64" fill="#4a74b4"/>
<rect x="1129.3" y="86.49" width="3.70" height="61.64" fill="#18a820"/>
<rect x="1133" y="86.49" width="2.80" height="61.64" fill="#147c1c"/>
<rect x="1135.8" y="86.49" width="3.40" height="61.64" fill="#4a74b4"/>
<rect x="1112.3" y="163.53" width="6.60" height="46.23" fill="#62c0de"/>
<rect x="1112.3" y="209.77" width="6.60" height="15.41" fill="#6878a8"/>
<rect x="1189.5" y="163.53" width="6.30" height="61.64" fill="#4a74b4"/>
<rect x="1195.8" y="163.53" width="9.10" height="61.64" fill="#18a820"/>
<rect x="1204.9" y="163.53" width="7.00" height="61.64" fill="#5a9aca"/>
<rect x="1211.9" y="209.77" width="0.90" height="15.41" fill="#5a9aca"/>
<rect x="1249.3" y="40.25" width="5.50" height="15.41" fill="#4a74b4"/>
<rect x="1262.3" y="40.25" width="6.50" height="61.64" fill="#18a820"/>
<rect x="1269.2" y="101.89" width="11.70" height="61.64" fill="#18c828"/>
</g>
<g stroke="#808080" stroke-width="0.69" stroke-dasharray="2.75,0.93" opacity="0.45" fill="none">
<line x1="238.1" y1="41.3" x2="238.1" y2="426.4"/>
<line x1="418.8" y1="41.3" x2="418.8" y2="426.4"/>
<line x1="599.5" y1="41.3" x2="599.5" y2="426.4"/>
<line x1="780.2" y1="41.3" x2="780.2" y2="426.4"/>
<line x1="960.9" y1="41.3" x2="960.9" y2="426.4"/>
<line x1="1141.6" y1="41.3" x2="1141.6" y2="426.4"/>
<line x1="1322.3" y1="41.3" x2="1322.3" y2="426.4"/>
<line x1="74.5" y1="418.50" x2="1376.5" y2="418.50"/>
<line x1="74.5" y1="356.86" x2="1376.5" y2="356.86"/>
<line x1="74.5" y1="295.22" x2="1376.5" y2="295.22"/>
<line x1="74.5" y1="233.58" x2="1376.5" y2="233.58"/>
<line x1="74.5" y1="171.94" x2="1376.5" y2="171.94"/>
<line x1="74.5" y1="110.30" x2="1376.5" y2="110.30"/>
<line x1="74.5" y1="48.66" x2="1376.5" y2="48.66"/>
</g>
<g stroke="#000" stroke-width="1.1">
<line x1="238.1" y1="426.4" x2="238.1" y2="431.4"/>
<line x1="418.8" y1="426.4" x2="418.8" y2="431.4"/>
<line x1="599.5" y1="426.4" x2="599.5" y2="431.4"/>
<line x1="780.2" y1="426.4" x2="780.2" y2="431.4"/>
<line x1="960.9" y1="426.4" x2="960.9" y2="431.4"/>
<line x1="1141.6" y1="426.4" x2="1141.6" y2="431.4"/>
<line x1="1322.3" y1="426.4" x2="1322.3" y2="431.4"/>
<line x1="69.5" y1="418.50" x2="74.5" y2="418.50"/>
<line x1="69.5" y1="356.86" x2="74.5" y2="356.86"/>
<line x1="69.5" y1="295.22" x2="74.5" y2="295.22"/>
<line x1="69.5" y1="233.58" x2="74.5" y2="233.58"/>
<line x1="69.5" y1="171.94" x2="74.5" y2="171.94"/>
<line x1="69.5" y1="110.30" x2="74.5" y2="110.30"/>
<line x1="69.5" y1="48.66" x2="74.5" y2="48.66"/>
</g>
<rect x="74.5" y="41.3" width="1302.0" height="385.09999999999997" fill="none" stroke="#000" stroke-width="1.1"/>
<text x="63.5" y="425.90" font-size="18.06" text-anchor="end">0</text>
<text x="63.5" y="364.26" font-size="18.06" text-anchor="end">2</text>
<text x="63.5" y="302.62" font-size="18.06" text-anchor="end">4</text>
<text x="63.5" y="240.98" font-size="18.06" text-anchor="end">6</text>
<text x="63.5" y="179.34" font-size="18.06" text-anchor="end">8</text>
<text x="63.5" y="117.70" font-size="18.06" text-anchor="end">10</text>
<text x="63.5" y="56.06" font-size="18.06" text-anchor="end">12</text>
<text x="1375.5" y="441" font-size="13.9" text-anchor="end">1e6</text>
<text x="74.0" y="31" font-size="13.9">Product: Maximum Reflectivity</text>
<text x="725.5" y="33.2" font-size="30.5" text-anchor="middle">10.01.2026 04:20 - 04:23 UTC</text>
<text x="725.0" y="455.8" font-size="25" text-anchor="middle">South to North</text>
<text transform="translate(28.1,236.2) rotate(-90)" font-size="25.2" text-anchor="middle">km AMSL</text>
<g shape-rendering="crispEdges">
<rect x="1392.6" y="393.84" width="17.10" height="12.86" fill="#6878a8"/>
<rect x="1392.6" y="381.49" width="17.10" height="12.86" fill="#5868a8"/>
<rect x="1392.6" y="369.13" width="17.10" height="12.86" fill="#4460a8"/>
<rect x="1392.6" y="356.77" width="17.10" height="12.86" fill="#4a74b4"/>
<rect x="1392.6" y="344.41" width="17.10" height="12.86" fill="#5a9aca"/>
<rect x="1392.6" y="332.06" width="17.10" height="12.86" fill="#62c0de"/>
<rect x="1392.6" y="319.70" width="17.10" height="12.86" fill="#5cd2c8"/>
<rect x="1392.6" y="307.34" width="17.10" height="12.86" fill="#3cd46c"/>
<rect x="1392.6" y="294.99" width="17.10" height="12.86" fill="#18c828"/>
<rect x="1392.6" y="282.63" width="17.10" height="12.86" fill="#18b828"/>
<rect x="1392.6" y="270.27" width="17.10" height="12.86" fill="#18a820"/>
<rect x="1392.6" y="257.91" width="17.10" height="12.86" fill="#189420"/>
<rect x="1392.6" y="245.56" width="17.10" height="12.86" fill="#147c1c"/>
<rect x="1392.6" y="233.20" width="17.10" height="12.86" fill="#106818"/>
<rect x="1392.6" y="220.84" width="17.10" height="12.86" fill="#3c8418"/>
<rect x="1392.6" y="208.49" width="17.10" height="12.86" fill="#a0b010"/>
<rect x="1392.6" y="196.13" width="17.10" height="12.86" fill="#ffd800"/>
<rect x="1392.6" y="183.77" width="17.10" height="12.86" fill="#ffb800"/>
<rect x="1392.6" y="171.41" width="17.10" height="12.86" fill="#ff9c00"/>
<rect x="1392.6" y="159.06" width="17.10" height="12.86" fill="#ff8000"/>
<rect x="1392.6" y="146.70" width="17.10" height="12.86" fill="#f00000"/>
<rect x="1392.6" y="134.34" width="17.10" height="12.86" fill="#d00000"/>
<rect x="1392.6" y="121.99" width="17.10" height="12.86" fill="#b00000"/>
<rect x="1392.6" y="109.63" width="17.10" height="12.86" fill="#800000"/>
<rect x="1392.6" y="97.27" width="17.10" height="12.86" fill="#ffdcff"/>
<rect x="1392.6" y="84.91" width="17.10" height="12.86" fill="#ffb0ff"/>
<rect x="1392.6" y="72.56" width="17.10" height="12.86" fill="#ff70f4"/>
<rect x="1392.6" y="60.20" width="17.10" height="12.86" fill="#f030e8"/>
</g>
<rect x="1392.6" y="60.2" width="17.10" height="346.00" fill="none" stroke="#000" stroke-width="1.1"/>
<g stroke="#000" stroke-width="1.1">
<line x1="1409.7" y1="406.20" x2="1414.7" y2="406.20"/>
<line x1="1409.7" y1="356.77" x2="1414.7" y2="356.77"/>
<line x1="1409.7" y1="307.34" x2="1414.7" y2="307.34"/>
<line x1="1409.7" y1="257.91" x2="1414.7" y2="257.91"/>
<line x1="1409.7" y1="208.49" x2="1414.7" y2="208.49"/>
<line x1="1409.7" y1="159.06" x2="1414.7" y2="159.06"/>
<line x1="1409.7" y1="109.63" x2="1414.7" y2="109.63"/>
<line x1="1409.7" y1="60.20" x2="1414.7" y2="60.20"/>
</g>
<text x="1419" y="414.10" font-size="21.5">0</text>
<text x="1419" y="364.67" font-size="21.5">10</text>
<text x="1419" y="315.24" font-size="21.5">20</text>
<text x="1419" y="265.81" font-size="21.5">30</text>
<text x="1419" y="216.39" font-size="21.5">40</text>
<text x="1419" y="166.96" font-size="21.5">50</text>
<text x="1419" y="117.53" font-size="21.5">60</text>
<text x="1419" y="68.10" font-size="21.5">70</text>
<text transform="translate(1468,236.3) rotate(-90)" font-size="19.8" text-anchor="middle">dBZ</text>
</svg></body></html>
